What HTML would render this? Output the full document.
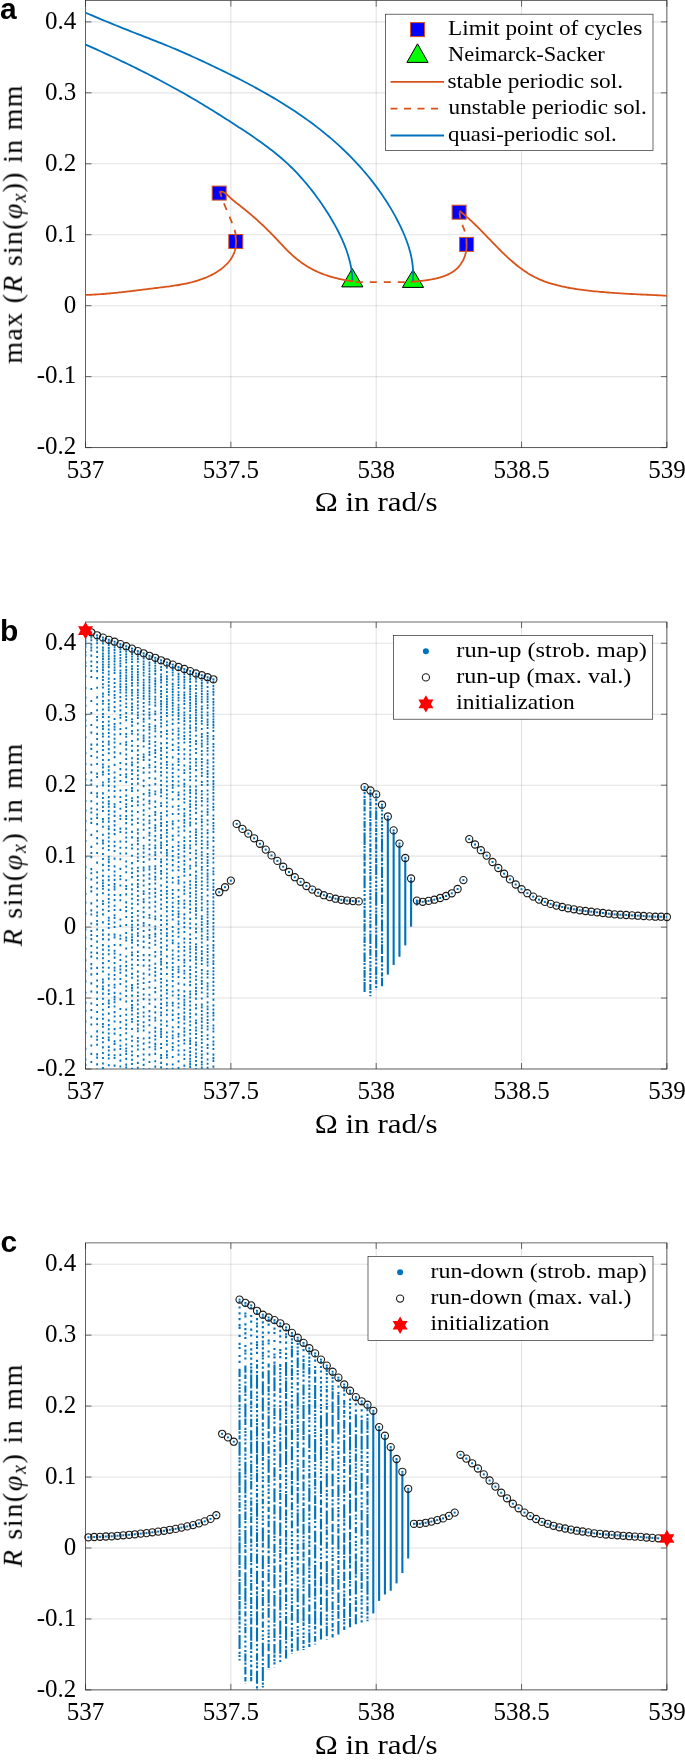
<!DOCTYPE html>
<html><head><meta charset="utf-8"><style>html,body{margin:0;padding:0;background:#fff;overflow:hidden}svg{display:block} text{will-change:transform}</style></head>
<body>
<svg width="685" height="1761" viewBox="0 0 685 1761">
<rect width="685" height="1761" fill="#fff"/>
<defs>
<clipPath id="c0"><rect x="85.5" y="0.6" width="581.40" height="447.0"/></clipPath>
<clipPath id="c1"><rect x="85.5" y="622.0" width="581.40" height="447.0"/></clipPath>
<clipPath id="c2"><rect x="85.5" y="1242.9" width="581.40" height="447.0"/></clipPath>
</defs>
<path d="M85.50 0.60V447.60 M230.85 0.60V447.60 M376.20 0.60V447.60 M521.55 0.60V447.60 M666.90 0.60V447.60" stroke="#262626" stroke-opacity="0.13" stroke-width="1.1" fill="none"/>
<path d="M85.50 447.60H666.90 M85.50 376.65H666.90 M85.50 305.70H666.90 M85.50 234.74H666.90 M85.50 163.79H666.90 M85.50 92.84H666.90 M85.50 21.89H666.90" stroke="#262626" stroke-opacity="0.13" stroke-width="1.1" fill="none"/>
<rect x="85.5" y="0.6" width="581.40" height="447.0" fill="none" stroke="#262626" stroke-width="0.68"/>
<path d="M85.50 447.60v-6M85.50 0.60v6 M230.85 447.60v-6M230.85 0.60v6 M376.20 447.60v-6M376.20 0.60v6 M521.55 447.60v-6M521.55 0.60v6 M666.90 447.60v-6M666.90 0.60v6 M85.50 447.60h6M666.90 447.60h-6 M85.50 376.65h6M666.90 376.65h-6 M85.50 305.70h6M666.90 305.70h-6 M85.50 234.74h6M666.90 234.74h-6 M85.50 163.79h6M666.90 163.79h-6 M85.50 92.84h6M666.90 92.84h-6 M85.50 21.89h6M666.90 21.89h-6" stroke="#262626" stroke-width="0.68" fill="none"/>
<text x="85.50" y="477.90" font-family="Liberation Serif" font-size="25" text-anchor="middle">537</text>
<text x="230.85" y="477.90" font-family="Liberation Serif" font-size="25" text-anchor="middle">537.5</text>
<text x="376.20" y="477.90" font-family="Liberation Serif" font-size="25" text-anchor="middle">538</text>
<text x="521.55" y="477.90" font-family="Liberation Serif" font-size="25" text-anchor="middle">538.5</text>
<text x="666.90" y="477.90" font-family="Liberation Serif" font-size="25" text-anchor="middle">539</text>
<text x="76.30" y="454.40" font-family="Liberation Serif" font-size="25" text-anchor="end">-0.2</text>
<text x="76.30" y="383.45" font-family="Liberation Serif" font-size="25" text-anchor="end">-0.1</text>
<text x="76.30" y="312.50" font-family="Liberation Serif" font-size="25" text-anchor="end">0</text>
<text x="76.30" y="241.54" font-family="Liberation Serif" font-size="25" text-anchor="end">0.1</text>
<text x="76.30" y="170.59" font-family="Liberation Serif" font-size="25" text-anchor="end">0.2</text>
<text x="76.30" y="99.64" font-family="Liberation Serif" font-size="25" text-anchor="end">0.3</text>
<text x="76.30" y="28.69" font-family="Liberation Serif" font-size="25" text-anchor="end">0.4</text>
<text x="376.20" y="511.20" font-family="Liberation Serif" font-size="28" text-anchor="middle" textLength="123" lengthAdjust="spacingAndGlyphs">Ω in rad/s</text>
<rect x="212.2" y="186.1" width="14" height="14" fill="#0000ff" stroke="#D95319" stroke-width="1"/>
<rect x="228.8" y="234.5" width="14" height="14" fill="#0000ff" stroke="#D95319" stroke-width="1"/>
<rect x="452.1" y="205.2" width="14" height="14" fill="#0000ff" stroke="#D95319" stroke-width="1"/>
<rect x="459.6" y="237.4" width="14" height="14" fill="#0000ff" stroke="#D95319" stroke-width="1"/>
<path d="M352.3 268.5L362.9 286.9L341.7 286.9Z" fill="#00ff00" stroke="#000" stroke-width="1"/>
<path d="M413.0 269.9L423.6 287.4L402.4 287.4Z" fill="#00ff00" stroke="#000" stroke-width="1"/>
<g clip-path="url(#c0)" fill="none" stroke-linejoin="round" stroke-linecap="round">
<path d="M85.04 12.51 L88.50 13.98 L91.96 15.45 L95.42 16.91 L98.89 18.36 L102.35 19.81 L105.83 21.25 L109.30 22.68 L112.78 24.10 L116.26 25.51 L119.74 26.92 L123.23 28.32 L126.71 29.71 L130.21 31.10 L133.70 32.47 L137.20 33.84 L140.70 35.20 L144.20 36.56 L147.70 37.93 L151.20 39.29 L154.69 40.67 L158.18 42.05 L161.67 43.45 L165.15 44.86 L168.62 46.29 L172.08 47.74 L175.54 49.20 L179.00 50.68 L182.44 52.17 L185.88 53.67 L189.32 55.19 L192.75 56.72 L196.17 58.27 L199.59 59.83 L203.00 61.40 L206.41 62.99 L209.81 64.59 L213.21 66.20 L216.60 67.83 L219.98 69.47 L223.36 71.12 L226.73 72.78 L230.10 74.45 L233.46 76.14 L236.82 77.84 L240.16 79.55 L243.50 81.28 L246.83 83.03 L250.15 84.79 L253.47 86.57 L256.77 88.37 L260.06 90.18 L263.33 92.02 L266.60 93.87 L269.85 95.75 L273.09 97.64 L276.32 99.56 L279.53 101.50 L282.72 103.47 L285.90 105.46 L289.07 107.47 L292.21 109.51 L295.34 111.58 L298.45 113.67 L301.54 115.79 L304.61 117.94 L307.66 120.12 L310.69 122.33 L313.70 124.56 L316.68 126.84 L319.65 129.14 L322.59 131.47 L325.50 133.84 L328.39 136.25 L331.26 138.68 L334.10 141.15 L336.91 143.66 L339.70 146.19 L342.45 148.76 L345.17 151.37 L347.87 154.00 L350.53 156.67 L353.15 159.38 L355.75 162.11 L358.31 164.88 L360.83 167.67 L363.31 170.50 L365.76 173.37 L368.17 176.26 L370.53 179.18 L372.86 182.14 L375.14 185.13 L377.39 188.14 L379.58 191.19 L381.74 194.27 L383.84 197.38 L385.90 200.51 L387.92 203.68 L389.88 206.88 L391.79 210.11 L393.66 213.36 L395.47 216.65 L397.23 219.97 L398.94 223.31 L400.59 226.68 L402.18 230.08 L403.70 233.51 L405.14 236.98 L406.49 240.47 L407.75 243.99 L408.89 247.55 L409.93 251.13 L410.83 254.76 L411.61 258.41 L412.23 262.10 L412.71 265.83 L413.02 269.59 L413.16 273.38 L413.13 277.22 L412.90 281.09" stroke="#0072BD" stroke-width="1.8"/>
<path d="M85.00 44.29 L87.86 45.57 L90.72 46.85 L93.58 48.13 L96.43 49.43 L99.28 50.72 L102.13 52.03 L104.98 53.34 L107.83 54.65 L110.67 55.97 L113.51 57.30 L116.35 58.64 L119.18 59.98 L122.01 61.33 L124.84 62.68 L127.66 64.04 L130.49 65.41 L133.30 66.79 L136.12 68.18 L138.93 69.57 L141.73 70.97 L144.53 72.38 L147.33 73.79 L150.12 75.22 L152.91 76.65 L155.69 78.09 L158.47 79.54 L161.24 81.00 L164.00 82.47 L166.76 83.95 L169.52 85.43 L172.27 86.93 L175.01 88.43 L177.75 89.95 L180.48 91.47 L183.20 93.01 L185.92 94.55 L188.63 96.11 L191.34 97.67 L194.04 99.25 L196.73 100.84 L199.41 102.44 L202.08 104.04 L204.75 105.66 L207.42 107.29 L210.08 108.93 L212.73 110.57 L215.38 112.22 L218.03 113.88 L220.67 115.55 L223.32 117.22 L225.96 118.90 L228.60 120.59 L231.23 122.28 L233.86 123.98 L236.49 125.68 L239.12 127.40 L241.74 129.12 L244.36 130.85 L246.97 132.59 L249.58 134.34 L252.17 136.10 L254.76 137.88 L257.33 139.67 L259.89 141.48 L262.44 143.30 L264.97 145.15 L267.48 147.02 L269.98 148.91 L272.45 150.83 L274.90 152.77 L277.32 154.74 L279.73 156.75 L282.10 158.78 L284.44 160.84 L286.76 162.94 L289.04 165.07 L291.29 167.24 L293.51 169.45 L295.69 171.69 L297.84 173.97 L299.96 176.28 L302.05 178.61 L304.11 180.98 L306.14 183.37 L308.14 185.78 L310.11 188.22 L312.05 190.68 L313.96 193.16 L315.84 195.67 L317.70 198.20 L319.52 200.76 L321.31 203.33 L323.08 205.93 L324.82 208.55 L326.52 211.19 L328.20 213.85 L329.85 216.53 L331.47 219.23 L333.06 221.95 L334.61 224.68 L336.13 227.44 L337.61 230.22 L339.04 233.02 L340.42 235.84 L341.75 238.68 L343.02 241.54 L344.23 244.43 L345.38 247.33 L346.45 250.26 L347.46 253.21 L348.38 256.18 L349.23 259.17 L349.99 262.19 L350.66 265.24 L351.24 268.30 L351.72 271.39 L352.11 274.50 L352.38 277.64 L352.55 280.81" stroke="#0072BD" stroke-width="1.8"/>
<path d="M84.97 294.97 L86.49 294.92 L88.00 294.87 L89.51 294.81 L91.02 294.74 L92.52 294.67 L94.03 294.59 L95.53 294.51 L97.02 294.42 L98.52 294.32 L100.01 294.22 L101.50 294.11 L102.99 294.00 L104.47 293.88 L105.96 293.76 L107.44 293.63 L108.92 293.50 L110.40 293.36 L111.88 293.22 L113.35 293.08 L114.83 292.93 L116.30 292.78 L117.78 292.63 L119.25 292.47 L120.72 292.31 L122.19 292.14 L123.66 291.98 L125.13 291.81 L126.60 291.64 L128.07 291.46 L129.54 291.29 L131.01 291.11 L132.48 290.93 L133.96 290.75 L135.43 290.57 L136.90 290.39 L138.37 290.20 L139.84 290.02 L141.32 289.83 L142.79 289.65 L144.27 289.46 L145.74 289.28 L147.22 289.09 L148.70 288.91 L150.18 288.73 L151.67 288.54 L153.15 288.36 L154.64 288.18 L156.13 288.00 L157.62 287.82 L159.11 287.64 L160.60 287.46 L162.10 287.28 L163.59 287.10 L165.08 286.92 L166.58 286.73 L168.07 286.53 L169.57 286.33 L171.06 286.13 L172.55 285.92 L174.04 285.70 L175.53 285.47 L177.02 285.24 L178.50 284.99 L179.98 284.74 L181.46 284.47 L182.93 284.20 L184.40 283.91 L185.87 283.60 L187.33 283.29 L188.79 282.96 L190.24 282.61 L191.69 282.25 L193.13 281.87 L194.57 281.47 L196.00 281.06 L197.43 280.62 L198.84 280.17 L200.25 279.70 L201.66 279.20 L203.05 278.68 L204.44 278.14 L205.82 277.58 L207.19 277.00 L208.55 276.38 L209.91 275.75 L211.25 275.08 L212.59 274.39 L213.91 273.68 L215.21 272.93 L216.50 272.16 L217.77 271.36 L219.02 270.53 L220.24 269.67 L221.44 268.78 L222.61 267.86 L223.74 266.91 L224.85 265.93 L225.91 264.92 L226.94 263.88 L227.92 262.81 L228.86 261.71 L229.75 260.57 L230.60 259.41 L231.39 258.20 L232.14 256.97 L232.82 255.70 L233.45 254.40 L234.01 253.07 L234.51 251.70 L234.95 250.29 L235.32 248.86 L235.62 247.38 L235.84 245.88 L235.99 244.34 L236.07 242.76 L236.06 241.16 L235.98 239.52 L235.80 237.85 L235.55 236.15" stroke="#D95319" stroke-width="1.8"/>
<path d="M235.60 236.50C235.33 235.10 236.10 234.02 234.00 228.10C231.90 222.18 225.32 207.05 223.00 201.00C220.68 194.95 220.58 193.33 220.10 191.80" stroke="#D95319" stroke-width="1.8" stroke-dasharray="7 7" stroke-linecap="butt"/>
<path d="M220.13 191.53 L221.58 191.64 L222.91 191.98 L224.12 192.52 L225.25 193.22 L226.31 194.04 L227.33 194.95 L228.33 195.90 L229.32 196.87 L230.33 197.82 L231.35 198.74 L232.40 199.64 L233.45 200.53 L234.51 201.39 L235.59 202.25 L236.67 203.10 L237.75 203.95 L238.83 204.79 L239.91 205.63 L240.99 206.48 L242.07 207.33 L243.14 208.18 L244.21 209.04 L245.27 209.90 L246.33 210.77 L247.39 211.64 L248.44 212.52 L249.49 213.40 L250.54 214.29 L251.58 215.18 L252.62 216.07 L253.65 216.97 L254.68 217.88 L255.71 218.78 L256.73 219.70 L257.75 220.61 L258.76 221.54 L259.77 222.46 L260.78 223.39 L261.78 224.33 L262.78 225.27 L263.77 226.21 L264.76 227.16 L265.75 228.12 L266.73 229.07 L267.71 230.04 L268.69 231.00 L269.66 231.97 L270.62 232.95 L271.58 233.93 L272.54 234.92 L273.50 235.91 L274.45 236.90 L275.39 237.90 L276.34 238.90 L277.28 239.91 L278.22 240.91 L279.16 241.92 L280.10 242.92 L281.05 243.92 L281.99 244.92 L282.94 245.92 L283.89 246.92 L284.84 247.91 L285.80 248.89 L286.77 249.87 L287.74 250.84 L288.72 251.80 L289.71 252.75 L290.70 253.69 L291.71 254.63 L292.73 255.55 L293.76 256.46 L294.80 257.35 L295.85 258.23 L296.91 259.10 L297.99 259.95 L299.07 260.79 L300.17 261.62 L301.28 262.43 L302.40 263.22 L303.53 264.00 L304.67 264.76 L305.83 265.50 L306.99 266.23 L308.16 266.94 L309.35 267.63 L310.54 268.31 L311.74 268.96 L312.96 269.60 L314.18 270.22 L315.41 270.82 L316.65 271.41 L317.91 271.97 L319.16 272.52 L320.43 273.05 L321.71 273.56 L322.99 274.05 L324.28 274.53 L325.57 274.99 L326.88 275.43 L328.18 275.86 L329.50 276.28 L330.81 276.67 L332.14 277.06 L333.47 277.42 L334.80 277.78 L336.13 278.12 L337.47 278.44 L338.81 278.76 L340.15 279.05 L341.50 279.34 L342.85 279.61 L344.19 279.88 L345.54 280.12 L346.89 280.36 L348.24 280.59 L349.59 280.80 L350.94 281.01 L352.29 281.20" stroke="#D95319" stroke-width="1.8"/>
<path d="M355.8 282.2 L411 282.2" stroke="#D95319" stroke-width="1.8" stroke-dasharray="7 7" stroke-linecap="butt"/>
<path d="M411.42 281.89 L412.02 281.83 L412.62 281.77 L413.23 281.71 L413.84 281.65 L414.45 281.58 L415.07 281.52 L415.69 281.46 L416.32 281.40 L416.95 281.33 L417.58 281.27 L418.22 281.20 L418.86 281.14 L419.50 281.07 L420.14 281.00 L420.79 280.93 L421.44 280.86 L422.09 280.78 L422.74 280.70 L423.40 280.63 L424.05 280.54 L424.71 280.46 L425.37 280.37 L426.03 280.28 L426.69 280.19 L427.35 280.10 L428.01 280.00 L428.67 279.90 L429.33 279.79 L429.99 279.68 L430.65 279.57 L431.31 279.46 L431.97 279.34 L432.63 279.21 L433.28 279.08 L433.94 278.95 L434.59 278.81 L435.25 278.67 L435.90 278.52 L436.55 278.37 L437.19 278.21 L437.84 278.05 L438.48 277.88 L439.12 277.71 L439.76 277.53 L440.39 277.35 L441.02 277.16 L441.65 276.96 L442.27 276.76 L442.89 276.55 L443.50 276.33 L444.11 276.11 L444.72 275.88 L445.32 275.65 L445.92 275.40 L446.51 275.15 L447.10 274.90 L447.68 274.63 L448.26 274.36 L448.83 274.08 L449.39 273.79 L449.95 273.50 L450.50 273.19 L451.05 272.88 L451.59 272.56 L452.12 272.23 L452.65 271.89 L453.17 271.54 L453.68 271.19 L454.18 270.82 L454.68 270.45 L455.17 270.06 L455.65 269.67 L456.12 269.27 L456.58 268.86 L457.04 268.43 L457.48 268.00 L457.92 267.56 L458.35 267.10 L458.77 266.64 L459.18 266.17 L459.58 265.68 L459.97 265.19 L460.35 264.68 L460.72 264.17 L461.08 263.65 L461.43 263.12 L461.77 262.58 L462.10 262.03 L462.42 261.47 L462.73 260.91 L463.03 260.34 L463.31 259.76 L463.59 259.17 L463.85 258.58 L464.11 257.97 L464.35 257.37 L464.58 256.75 L464.80 256.13 L465.01 255.51 L465.20 254.87 L465.38 254.24 L465.56 253.59 L465.71 252.94 L465.86 252.29 L465.99 251.63 L466.12 250.97 L466.22 250.30 L466.32 249.63 L466.40 248.96 L466.47 248.28 L466.53 247.60 L466.57 246.92 L466.60 246.23 L466.62 245.54 L466.62 244.85 L466.61 244.15 L466.58 243.46 L466.54 242.76 L466.49 242.06" stroke="#D95319" stroke-width="1.8"/>
<path d="M466.60 242.30C466.50 241.25 466.47 238.30 466.00 236.00C465.53 233.70 464.60 230.83 463.80 228.50C463.00 226.17 461.93 224.67 461.20 222.00C460.47 219.33 459.70 214.08 459.40 212.50" stroke="#D95319" stroke-width="1.8" stroke-dasharray="7 7" stroke-dashoffset="3" stroke-linecap="butt"/>
<path d="M459.96 211.28 L461.45 212.44 L462.93 213.62 L464.40 214.83 L465.85 216.07 L467.30 217.32 L468.74 218.60 L470.17 219.90 L471.60 221.21 L473.01 222.55 L474.42 223.90 L475.83 225.26 L477.23 226.64 L478.62 228.03 L480.01 229.43 L481.40 230.85 L482.79 232.27 L484.17 233.69 L485.56 235.13 L486.94 236.56 L488.33 238.01 L489.71 239.45 L491.10 240.89 L492.48 242.34 L493.88 243.78 L495.27 245.21 L496.67 246.65 L498.07 248.08 L499.48 249.50 L500.90 250.91 L502.32 252.31 L503.75 253.70 L505.19 255.08 L506.64 256.44 L508.09 257.79 L509.56 259.13 L511.03 260.45 L512.52 261.74 L514.02 263.02 L515.53 264.28 L517.06 265.51 L518.60 266.72 L520.16 267.90 L521.72 269.06 L523.31 270.19 L524.91 271.29 L526.53 272.36 L528.17 273.40 L529.83 274.40 L531.50 275.37 L533.19 276.31 L534.91 277.20 L536.65 278.06 L538.40 278.88 L540.18 279.67 L541.98 280.41 L543.79 281.13 L545.62 281.80 L547.47 282.45 L549.34 283.06 L551.22 283.65 L553.11 284.20 L555.01 284.73 L556.93 285.23 L558.85 285.71 L560.79 286.16 L562.73 286.59 L564.68 286.99 L566.64 287.38 L568.60 287.75 L570.57 288.10 L572.54 288.43 L574.51 288.75 L576.49 289.05 L578.46 289.34 L580.44 289.61 L582.41 289.88 L584.39 290.14 L586.36 290.38 L588.33 290.62 L590.30 290.85 L592.27 291.06 L594.24 291.27 L596.21 291.47 L598.18 291.66 L600.14 291.85 L602.11 292.02 L604.08 292.19 L606.04 292.35 L608.01 292.51 L609.97 292.66 L611.93 292.80 L613.90 292.94 L615.86 293.07 L617.82 293.20 L619.79 293.33 L621.75 293.45 L623.71 293.56 L625.68 293.67 L627.64 293.78 L629.60 293.89 L631.56 293.99 L633.53 294.09 L635.49 294.19 L637.45 294.29 L639.42 294.39 L641.38 294.48 L643.35 294.58 L645.31 294.67 L647.28 294.77 L649.24 294.87 L651.21 294.96 L653.18 295.06 L655.14 295.16 L657.11 295.26 L659.08 295.36 L661.05 295.47 L663.02 295.58 L665.00 295.69 L666.97 295.81" stroke="#D95319" stroke-width="1.8"/>
</g>
<rect x="385.5" y="14.2" width="267.5" height="136.3" fill="#fff" stroke="#262626" stroke-width="0.68"/>
<rect x="410.5" y="22.6" width="14" height="14" fill="#0000ff" stroke="#D95319" stroke-width="1"/>
<path d="M417.5 43.8L428.1 62.4L406.9 62.4Z" fill="#00ff00" stroke="#000" stroke-width="1"/>
<path d="M390.5 81.9H444" stroke="#D95319" stroke-width="1.8"/>
<path d="M390.5 108.6H444" stroke="#D95319" stroke-width="1.8" stroke-dasharray="7 6.5"/>
<path d="M390.5 135.5H444" stroke="#0072BD" stroke-width="1.8"/>
<text x="448.00" y="34.80" font-family="Liberation Serif" font-size="21.5" textLength="194.2" lengthAdjust="spacingAndGlyphs">Limit point of cycles</text>
<text x="448.00" y="61.30" font-family="Liberation Serif" font-size="21.5" textLength="156.8" lengthAdjust="spacingAndGlyphs">Neimarck-Sacker</text>
<text x="447.50" y="87.90" font-family="Liberation Serif" font-size="21.5" textLength="175.5" lengthAdjust="spacingAndGlyphs">stable periodic sol.</text>
<text x="448.60" y="114.40" font-family="Liberation Serif" font-size="21.5" textLength="198.2" lengthAdjust="spacingAndGlyphs">unstable periodic sol.</text>
<text x="448.00" y="141.00" font-family="Liberation Serif" font-size="21.5" textLength="168.7" lengthAdjust="spacingAndGlyphs">quasi-periodic sol.</text>
<path d="M85.50 622.00V1069.00 M230.85 622.00V1069.00 M376.20 622.00V1069.00 M521.55 622.00V1069.00 M666.90 622.00V1069.00" stroke="#262626" stroke-opacity="0.13" stroke-width="1.1" fill="none"/>
<path d="M85.50 1069.00H666.90 M85.50 998.05H666.90 M85.50 927.10H666.90 M85.50 856.14H666.90 M85.50 785.19H666.90 M85.50 714.24H666.90 M85.50 643.29H666.90" stroke="#262626" stroke-opacity="0.13" stroke-width="1.1" fill="none"/>
<rect x="85.5" y="622.0" width="581.40" height="447.0" fill="none" stroke="#262626" stroke-width="0.68"/>
<path d="M85.50 1069.00v-6M85.50 622.00v6 M230.85 1069.00v-6M230.85 622.00v6 M376.20 1069.00v-6M376.20 622.00v6 M521.55 1069.00v-6M521.55 622.00v6 M666.90 1069.00v-6M666.90 622.00v6 M85.50 1069.00h6M666.90 1069.00h-6 M85.50 998.05h6M666.90 998.05h-6 M85.50 927.10h6M666.90 927.10h-6 M85.50 856.14h6M666.90 856.14h-6 M85.50 785.19h6M666.90 785.19h-6 M85.50 714.24h6M666.90 714.24h-6 M85.50 643.29h6M666.90 643.29h-6" stroke="#262626" stroke-width="0.68" fill="none"/>
<text x="85.50" y="1099.30" font-family="Liberation Serif" font-size="25" text-anchor="middle">537</text>
<text x="230.85" y="1099.30" font-family="Liberation Serif" font-size="25" text-anchor="middle">537.5</text>
<text x="376.20" y="1099.30" font-family="Liberation Serif" font-size="25" text-anchor="middle">538</text>
<text x="521.55" y="1099.30" font-family="Liberation Serif" font-size="25" text-anchor="middle">538.5</text>
<text x="666.90" y="1099.30" font-family="Liberation Serif" font-size="25" text-anchor="middle">539</text>
<text x="76.30" y="1075.80" font-family="Liberation Serif" font-size="25" text-anchor="end">-0.2</text>
<text x="76.30" y="1004.85" font-family="Liberation Serif" font-size="25" text-anchor="end">-0.1</text>
<text x="76.30" y="933.90" font-family="Liberation Serif" font-size="25" text-anchor="end">0</text>
<text x="76.30" y="862.94" font-family="Liberation Serif" font-size="25" text-anchor="end">0.1</text>
<text x="76.30" y="791.99" font-family="Liberation Serif" font-size="25" text-anchor="end">0.2</text>
<text x="76.30" y="721.04" font-family="Liberation Serif" font-size="25" text-anchor="end">0.3</text>
<text x="76.30" y="650.09" font-family="Liberation Serif" font-size="25" text-anchor="end">0.4</text>
<text x="376.20" y="1132.60" font-family="Liberation Serif" font-size="28" text-anchor="middle" textLength="123" lengthAdjust="spacingAndGlyphs">Ω in rad/s</text>
<g clip-path="url(#c1)" fill="none">
<path d="M85.50 632.1v2.1M85.50 634.8v2.1M85.50 637.5v2.1M85.50 640.2v2.1M85.50 642.9v2.1M85.50 645.6v2.1M85.50 650.9v2.1M85.50 654.3v2.1M85.50 661.5v2.1M85.50 665.0v2.1M85.50 675.2v2.1M85.50 687.0v2.1M85.50 696.6v2.1M85.50 704.7v2.1M85.50 713.9v2.1M85.50 719.4v2.1M85.50 724.9v2.1M85.50 736.2v2.1M85.50 752.2v2.1M85.50 762.7v2.1M85.50 772.9v2.1M85.50 778.4v2.1M85.50 783.9v2.1M85.50 799.9v2.1M85.50 809.6v2.1M85.50 820.0v2.1M85.50 829.2v2.1M85.50 840.0v2.1M85.50 856.0v2.1M85.50 866.1v2.1M85.50 877.0v2.1M85.50 893.0v2.1M85.50 901.5v2.1M85.50 912.5v2.1M85.50 928.5v2.1M85.50 936.6v2.1M85.50 947.7v2.1M85.50 959.2v2.1M85.50 970.0v2.1M85.50 980.3v2.1M85.50 991.7v2.1M85.50 1001.6v2.1M85.50 1009.8v2.1M85.50 1020.4v2.1M85.50 1031.7v2.1M85.50 1047.7v2.1M85.50 1058.4v2.1M85.50 1063.9v2.1M85.50 1072.5v2.1" stroke="#0072BD" stroke-width="1.8" fill="none"/>
<path d="M91.31 633.8v2.1M91.31 636.5v2.1M91.31 639.2v2.1M91.31 643.5v2.1M91.31 646.6v2.1M91.31 649.4v2.1M91.31 654.6v2.1M91.31 660.4v2.1M91.31 665.0v2.1M91.31 669.8v2.1M91.31 675.9v2.1M91.31 687.9v2.1M91.31 699.9v2.1M91.31 711.9v2.1M91.31 723.9v2.1M91.31 731.6v2.1M91.31 743.6v2.1M91.31 747.8v2.1M91.31 754.9v2.1M91.31 763.7v2.1M91.31 771.3v2.1M91.31 779.3v2.1M91.31 783.4v2.1M91.31 791.8v2.1M91.31 800.2v2.1M91.31 807.4v2.1M91.31 811.5v2.1M91.31 817.7v2.1M91.31 821.8v2.1M91.31 833.8v2.1M91.31 845.8v2.1M91.31 852.0v2.1M91.31 856.1v2.1M91.31 868.1v2.1M91.31 872.2v2.1M91.31 878.3v2.1M91.31 886.1v2.1M91.31 890.3v2.1M91.31 902.3v2.1M91.31 909.3v2.1M91.31 913.5v2.1M91.31 922.4v2.1M91.31 929.9v2.1M91.31 934.0v2.1M91.31 938.1v2.1M91.31 944.9v2.1M91.31 951.4v2.1M91.31 955.6v2.1M91.31 963.1v2.1M91.31 967.3v2.1M91.31 973.3v2.1M91.31 982.3v2.1M91.31 990.4v2.1M91.31 1002.4v2.1M91.31 1008.9v2.1M91.31 1016.5v2.1M91.31 1023.5v2.1M91.31 1035.5v2.1M91.31 1044.4v2.1M91.31 1052.8v2.1M91.31 1061.0v2.1M91.31 1073.0v2.1" stroke="#0072BD" stroke-width="1.8" fill="none"/>
<path d="M97.13 636.8v2.1M97.13 639.5v2.1M97.13 642.2v2.1M97.13 646.5v2.1M97.13 650.8v2.1M97.13 656.0v2.1M97.13 661.1v2.1M97.13 666.2v2.1M97.13 670.1v2.1M97.13 677.1v2.1M97.13 686.7v2.1M97.13 696.3v2.1M97.13 703.2v2.1M97.13 709.2v2.1M97.13 715.9v2.1M97.13 719.2v2.1M97.13 726.2v2.1M97.13 732.8v2.1M97.13 738.0v2.1M97.13 743.6v2.1M97.13 750.7v2.1M97.13 756.5v2.1M97.13 763.0v2.1M97.13 772.6v2.1M97.13 775.9v2.1M97.13 785.5v2.1M97.13 792.3v2.1M97.13 795.6v2.1M97.13 802.7v2.1M97.13 808.4v2.1M97.13 813.5v2.1M97.13 816.8v2.1M97.13 823.1v2.1M97.13 830.2v2.1M97.13 837.1v2.1M97.13 842.4v2.1M97.13 852.0v2.1M97.13 861.6v2.1M97.13 871.2v2.1M97.13 876.6v2.1M97.13 881.7v2.1M97.13 887.4v2.1M97.13 893.6v2.1M97.13 899.4v2.1M97.13 905.4v2.1M97.13 911.4v2.1M97.13 914.7v2.1M97.13 920.0v2.1M97.13 923.3v2.1M97.13 928.5v2.1M97.13 935.0v2.1M97.13 940.6v2.1M97.13 946.7v2.1M97.13 951.8v2.1M97.13 957.2v2.1M97.13 966.8v2.1M97.13 972.8v2.1M97.13 979.4v2.1M97.13 985.3v2.1M97.13 991.3v2.1M97.13 997.8v2.1M97.13 1003.9v2.1M97.13 1010.9v2.1M97.13 1017.8v2.1M97.13 1023.2v2.1M97.13 1030.3v2.1M97.13 1035.4v2.1M97.13 1038.7v2.1M97.13 1043.7v2.1M97.13 1053.3v2.1M97.13 1056.6v2.1M97.13 1063.3v2.1M97.13 1068.5v2.1M97.13 1074.8v2.1" stroke="#0072BD" stroke-width="1.8" fill="none"/>
<path d="M102.94 639.1v2.1M102.94 642.3v2.1M102.94 646.6v2.1M102.94 649.3v2.1M102.94 652.6v2.1M102.94 655.3v2.1M102.94 658.0v2.1M102.94 660.7v2.1M102.94 663.6v2.1M102.94 666.3v2.1M102.94 669.0v2.1M102.94 671.7v2.1M102.94 675.8v2.1M102.94 678.9v2.1M102.94 683.2v2.1M102.94 686.5v2.1M102.94 692.6v2.1M102.94 695.4v2.1M102.94 699.9v2.1M102.94 702.7v2.1M102.94 708.5v2.1M102.94 713.0v2.1M102.94 715.8v2.1M102.94 720.9v2.1M102.94 725.1v2.1M102.94 727.8v2.1M102.94 732.7v2.1M102.94 735.4v2.1M102.94 740.7v2.1M102.94 744.9v2.1M102.94 749.0v2.1M102.94 753.9v2.1M102.94 759.0v2.1M102.94 763.5v2.1M102.94 766.3v2.1M102.94 770.8v2.1M102.94 773.5v2.1M102.94 781.5v2.1M102.94 784.3v2.1M102.94 792.3v2.1M102.94 796.9v2.1M102.94 801.5v2.1M102.94 805.8v2.1M102.94 809.9v2.1M102.94 817.9v2.1M102.94 820.6v2.1M102.94 825.7v2.1M102.94 833.7v2.1M102.94 839.6v2.1M102.94 842.3v2.1M102.94 847.2v2.1M102.94 852.9v2.1M102.94 857.9v2.1M102.94 863.8v2.1M102.94 869.5v2.1M102.94 874.8v2.1M102.94 879.5v2.1M102.94 882.2v2.1M102.94 885.0v2.1M102.94 887.7v2.1M102.94 892.2v2.1M102.94 900.2v2.1M102.94 903.0v2.1M102.94 908.7v2.1M102.94 913.3v2.1M102.94 921.3v2.1M102.94 929.3v2.1M102.94 933.6v2.1M102.94 938.1v2.1M102.94 944.1v2.1M102.94 948.6v2.1M102.94 953.2v2.1M102.94 957.2v2.1M102.94 962.1v2.1M102.94 966.5v2.1M102.94 970.5v2.1M102.94 978.5v2.1M102.94 981.3v2.1M102.94 985.4v2.1M102.94 988.1v2.1M102.94 992.6v2.1M102.94 997.7v2.1M102.94 1003.0v2.1M102.94 1008.7v2.1M102.94 1013.4v2.1M102.94 1017.7v2.1M102.94 1023.0v2.1M102.94 1025.7v2.1M102.94 1031.5v2.1M102.94 1037.0v2.1M102.94 1041.2v2.1M102.94 1046.3v2.1M102.94 1051.9v2.1M102.94 1057.0v2.1M102.94 1062.4v2.1M102.94 1066.9v2.1M102.94 1069.6v2.1M102.94 1072.4v2.1" stroke="#0072BD" stroke-width="1.8" fill="none"/>
<path d="M108.76 641.3v2.1M108.76 644.1v2.1M108.76 646.9v2.1M108.76 649.6v2.1M108.76 652.3v2.1M108.76 655.3v2.1M108.76 658.0v2.1M108.76 660.7v2.1M108.76 663.4v2.1M108.76 666.1v2.1M108.76 670.4v2.1M108.76 673.5v2.1M108.76 677.6v2.1M108.76 680.9v2.1M108.76 684.6v2.1M108.76 688.2v2.1M108.76 691.0v2.1M108.76 693.7v2.1M108.76 699.3v2.1M108.76 703.1v2.1M108.76 706.5v2.1M108.76 709.2v2.1M108.76 715.9v2.1M108.76 720.5v2.1M108.76 724.3v2.1M108.76 728.4v2.1M108.76 732.0v2.1M108.76 735.7v2.1M108.76 740.6v2.1M108.76 743.3v2.1M108.76 748.1v2.1M108.76 752.2v2.1M108.76 758.9v2.1M108.76 765.6v2.1M108.76 769.3v2.1M108.76 772.9v2.1M108.76 777.9v2.1M108.76 780.6v2.1M108.76 784.8v2.1M108.76 789.4v2.1M108.76 796.1v2.1M108.76 800.3v2.1M108.76 803.0v2.1M108.76 805.7v2.1M108.76 809.8v2.1M108.76 813.4v2.1M108.76 817.3v2.1M108.76 820.6v2.1M108.76 825.4v2.1M108.76 828.1v2.1M108.76 832.6v2.1M108.76 836.5v2.1M108.76 840.5v2.1M108.76 844.9v2.1M108.76 848.9v2.1M108.76 855.7v2.1M108.76 858.4v2.1M108.76 861.1v2.1M108.76 864.9v2.1M108.76 868.7v2.1M108.76 875.4v2.1M108.76 879.1v2.1M108.76 884.0v2.1M108.76 888.8v2.1M108.76 893.7v2.1M108.76 898.0v2.1M108.76 901.4v2.1M108.76 905.5v2.1M108.76 910.0v2.1M108.76 916.7v2.1M108.76 919.4v2.1M108.76 922.9v2.1M108.76 926.9v2.1M108.76 933.6v2.1M108.76 938.6v2.1M108.76 945.3v2.1M108.76 949.2v2.1M108.76 953.2v2.1M108.76 959.9v2.1M108.76 966.7v2.1M108.76 973.4v2.1M108.76 977.6v2.1M108.76 984.3v2.1M108.76 989.3v2.1M108.76 992.9v2.1M108.76 999.6v2.1M108.76 1002.3v2.1M108.76 1005.9v2.1M108.76 1012.6v2.1M108.76 1019.3v2.1M108.76 1024.1v2.1M108.76 1028.2v2.1M108.76 1032.4v2.1M108.76 1036.4v2.1M108.76 1039.1v2.1M108.76 1045.8v2.1M108.76 1049.4v2.1M108.76 1053.8v2.1M108.76 1057.5v2.1M108.76 1064.2v2.1M108.76 1070.9v2.1" stroke="#0072BD" stroke-width="1.8" fill="none"/>
<path d="M114.57 643.2v2.1M114.57 646.3v2.1M114.57 649.0v2.1M114.57 651.7v2.1M114.57 654.8v2.1M114.57 657.6v2.1M114.57 660.3v2.1M114.57 663.5v2.1M114.57 666.5v2.1M114.57 669.2v2.1M114.57 671.9v2.1M114.57 677.9v2.1M114.57 682.0v2.1M114.57 686.0v2.1M114.57 690.2v2.1M114.57 694.0v2.1M114.57 696.7v2.1M114.57 701.0v2.1M114.57 706.1v2.1M114.57 710.2v2.1M114.57 717.9v2.1M114.57 723.0v2.1M114.57 725.7v2.1M114.57 728.4v2.1M114.57 733.4v2.1M114.57 737.7v2.1M114.57 741.5v2.1M114.57 746.2v2.1M114.57 751.3v2.1M114.57 756.1v2.1M114.57 763.8v2.1M114.57 771.4v2.1M114.57 776.6v2.1M114.57 780.5v2.1M114.57 785.6v2.1M114.57 790.0v2.1M114.57 795.6v2.1M114.57 803.3v2.1M114.57 806.0v2.1M114.57 810.6v2.1M114.57 814.8v2.1M114.57 820.1v2.1M114.57 824.3v2.1M114.57 828.8v2.1M114.57 833.1v2.1M114.57 840.7v2.1M114.57 845.1v2.1M114.57 849.9v2.1M114.57 857.6v2.1M114.57 865.3v2.1M114.57 870.4v2.1M114.57 874.5v2.1M114.57 878.8v2.1M114.57 882.9v2.1M114.57 885.6v2.1M114.57 888.3v2.1M114.57 893.9v2.1M114.57 899.1v2.1M114.57 904.7v2.1M114.57 908.9v2.1M114.57 914.2v2.1M114.57 916.9v2.1M114.57 921.5v2.1M114.57 926.0v2.1M114.57 933.6v2.1M114.57 936.3v2.1M114.57 944.0v2.1M114.57 949.7v2.1M114.57 952.4v2.1M114.57 956.6v2.1M114.57 962.0v2.1M114.57 966.7v2.1M114.57 969.4v2.1M114.57 974.0v2.1M114.57 978.2v2.1M114.57 983.7v2.1M114.57 986.4v2.1M114.57 991.8v2.1M114.57 995.8v2.1M114.57 998.5v2.1M114.57 1001.2v2.1M114.57 1005.5v2.1M114.57 1011.1v2.1M114.57 1015.4v2.1M114.57 1020.4v2.1M114.57 1028.1v2.1M114.57 1032.6v2.1M114.57 1040.3v2.1M114.57 1043.0v2.1M114.57 1048.6v2.1M114.57 1054.2v2.1M114.57 1056.9v2.1M114.57 1064.6v2.1M114.57 1070.3v2.1M114.57 1074.8v2.1" stroke="#0072BD" stroke-width="1.8" fill="none"/>
<path d="M120.38 645.6v2.1M120.38 648.3v2.1M120.38 651.0v2.1M120.38 654.0v2.1M120.38 657.0v2.1M120.38 659.7v2.1M120.38 662.4v2.1M120.38 665.1v2.1M120.38 669.4v2.1M120.38 672.1v2.1M120.38 674.8v2.1M120.38 677.5v2.1M120.38 680.2v2.1M120.38 683.3v2.1M120.38 686.0v2.1M120.38 688.7v2.1M120.38 691.4v2.1M120.38 696.1v2.1M120.38 700.0v2.1M120.38 704.5v2.1M120.38 709.3v2.1M120.38 714.0v2.1M120.38 716.7v2.1M120.38 722.2v2.1M120.38 727.9v2.1M120.38 733.1v2.1M120.38 742.7v2.1M120.38 752.3v2.1M120.38 761.9v2.1M120.38 768.1v2.1M120.38 773.9v2.1M120.38 779.9v2.1M120.38 789.5v2.1M120.38 795.9v2.1M120.38 800.9v2.1M120.38 807.7v2.1M120.38 814.7v2.1M120.38 818.0v2.1M120.38 827.6v2.1M120.38 830.9v2.1M120.38 840.5v2.1M120.38 846.7v2.1M120.38 852.4v2.1M120.38 858.2v2.1M120.38 867.8v2.1M120.38 874.9v2.1M120.38 878.2v2.1M120.38 884.5v2.1M120.38 894.1v2.1M120.38 899.2v2.1M120.38 908.8v2.1M120.38 918.4v2.1M120.38 924.8v2.1M120.38 934.4v2.1M120.38 937.7v2.1M120.38 944.1v2.1M120.38 953.7v2.1M120.38 959.0v2.1M120.38 965.1v2.1M120.38 968.4v2.1M120.38 971.7v2.1M120.38 977.9v2.1M120.38 982.9v2.1M120.38 992.5v2.1M120.38 998.3v2.1M120.38 1007.9v2.1M120.38 1014.9v2.1M120.38 1021.1v2.1M120.38 1026.9v2.1M120.38 1034.1v2.1M120.38 1039.4v2.1M120.38 1044.7v2.1M120.38 1048.0v2.1M120.38 1053.8v2.1M120.38 1059.6v2.1M120.38 1065.5v2.1" stroke="#0072BD" stroke-width="1.8" fill="none"/>
<path d="M126.20 647.7v2.1M126.20 650.4v2.1M126.20 653.3v2.1M126.20 656.0v2.1M126.20 658.7v2.1M126.20 661.4v2.1M126.20 665.7v2.1M126.20 668.8v2.1M126.20 671.5v2.1M126.20 674.6v2.1M126.20 677.3v2.1M126.20 680.0v2.1M126.20 683.2v2.1M126.20 685.9v2.1M126.20 688.6v2.1M126.20 691.4v2.1M126.20 694.7v2.1M126.20 698.2v2.1M126.20 702.5v2.1M126.20 705.9v2.1M126.20 712.1v2.1M126.20 715.9v2.1M126.20 719.2v2.1M126.20 727.2v2.1M126.20 733.0v2.1M126.20 735.7v2.1M126.20 741.3v2.1M126.20 744.0v2.1M126.20 748.3v2.1M126.20 753.4v2.1M126.20 758.0v2.1M126.20 763.1v2.1M126.20 768.4v2.1M126.20 773.3v2.1M126.20 776.1v2.1M126.20 781.1v2.1M126.20 789.1v2.1M126.20 794.6v2.1M126.20 799.0v2.1M126.20 803.2v2.1M126.20 805.9v2.1M126.20 810.1v2.1M126.20 815.1v2.1M126.20 817.9v2.1M126.20 822.1v2.1M126.20 827.6v2.1M126.20 831.7v2.1M126.20 836.5v2.1M126.20 840.7v2.1M126.20 846.7v2.1M126.20 852.4v2.1M126.20 860.4v2.1M126.20 865.4v2.1M126.20 871.2v2.1M126.20 879.2v2.1M126.20 885.0v2.1M126.20 887.8v2.1M126.20 893.3v2.1M126.20 901.3v2.1M126.20 905.9v2.1M126.20 910.1v2.1M126.20 916.0v2.1M126.20 924.0v2.1M126.20 932.0v2.1M126.20 936.6v2.1M126.20 939.4v2.1M126.20 947.4v2.1M126.20 955.4v2.1M126.20 960.7v2.1M126.20 965.1v2.1M126.20 969.3v2.1M126.20 974.6v2.1M126.20 980.3v2.1M126.20 985.5v2.1M126.20 989.7v2.1M126.20 994.9v2.1M126.20 1000.5v2.1M126.20 1008.5v2.1M126.20 1013.7v2.1M126.20 1019.2v2.1M126.20 1023.6v2.1M126.20 1027.7v2.1M126.20 1032.2v2.1M126.20 1038.2v2.1M126.20 1043.5v2.1M126.20 1047.5v2.1M126.20 1050.2v2.1M126.20 1053.0v2.1M126.20 1057.8v2.1M126.20 1063.6v2.1M126.20 1066.4v2.1M126.20 1074.4v2.1" stroke="#0072BD" stroke-width="1.8" fill="none"/>
<path d="M132.01 650.1v2.1M132.01 652.8v2.1M132.01 655.5v2.1M132.01 658.2v2.1M132.01 661.0v2.1M132.01 665.3v2.1M132.01 668.0v2.1M132.01 670.7v2.1M132.01 673.4v2.1M132.01 676.1v2.1M132.01 678.8v2.1M132.01 681.9v2.1M132.01 684.6v2.1M132.01 688.9v2.1M132.01 691.6v2.1M132.01 694.4v2.1M132.01 698.3v2.1M132.01 702.6v2.1M132.01 705.8v2.1M132.01 708.8v2.1M132.01 712.3v2.1M132.01 718.2v2.1M132.01 720.9v2.1M132.01 724.6v2.1M132.01 730.0v2.1M132.01 732.7v2.1M132.01 740.0v2.1M132.01 744.7v2.1M132.01 749.8v2.1M132.01 757.2v2.1M132.01 761.4v2.1M132.01 764.1v2.1M132.01 769.3v2.1M132.01 772.9v2.1M132.01 778.0v2.1M132.01 783.0v2.1M132.01 787.1v2.1M132.01 789.8v2.1M132.01 797.2v2.1M132.01 799.9v2.1M132.01 805.0v2.1M132.01 810.2v2.1M132.01 814.4v2.1M132.01 818.8v2.1M132.01 823.5v2.1M132.01 830.8v2.1M132.01 836.3v2.1M132.01 843.7v2.1M132.01 847.4v2.1M132.01 854.7v2.1M132.01 862.1v2.1M132.01 867.5v2.1M132.01 871.8v2.1M132.01 876.1v2.1M132.01 883.4v2.1M132.01 888.3v2.1M132.01 893.2v2.1M132.01 897.7v2.1M132.01 902.7v2.1M132.01 907.2v2.1M132.01 911.9v2.1M132.01 916.0v2.1M132.01 919.8v2.1M132.01 923.7v2.1M132.01 926.4v2.1M132.01 929.1v2.1M132.01 933.5v2.1M132.01 936.2v2.1M132.01 938.9v2.1M132.01 941.6v2.1M132.01 946.4v2.1M132.01 951.4v2.1M132.01 954.1v2.1M132.01 958.5v2.1M132.01 963.7v2.1M132.01 967.5v2.1M132.01 972.8v2.1M132.01 976.7v2.1M132.01 984.1v2.1M132.01 986.8v2.1M132.01 989.5v2.1M132.01 994.6v2.1M132.01 999.8v2.1M132.01 1004.1v2.1M132.01 1006.8v2.1M132.01 1009.5v2.1M132.01 1013.5v2.1M132.01 1018.0v2.1M132.01 1020.7v2.1M132.01 1028.0v2.1M132.01 1035.4v2.1M132.01 1039.7v2.1M132.01 1045.2v2.1M132.01 1050.4v2.1M132.01 1054.2v2.1M132.01 1058.7v2.1M132.01 1063.0v2.1M132.01 1067.7v2.1" stroke="#0072BD" stroke-width="1.8" fill="none"/>
<path d="M137.83 652.6v2.1M137.83 655.3v2.1M137.83 658.0v2.1M137.83 660.7v2.1M137.83 665.0v2.1M137.83 668.2v2.1M137.83 670.9v2.1M137.83 673.6v2.1M137.83 676.3v2.1M137.83 679.0v2.1M137.83 681.7v2.1M137.83 684.4v2.1M137.83 688.8v2.1M137.83 691.5v2.1M137.83 694.2v2.1M137.83 696.9v2.1M137.83 700.6v2.1M137.83 704.2v2.1M137.83 707.5v2.1M137.83 711.5v2.1M137.83 714.2v2.1M137.83 717.0v2.1M137.83 722.5v2.1M137.83 729.2v2.1M137.83 733.4v2.1M137.83 738.3v2.1M137.83 745.0v2.1M137.83 749.3v2.1M137.83 753.9v2.1M137.83 757.8v2.1M137.83 761.5v2.1M137.83 765.9v2.1M137.83 769.6v2.1M137.83 774.2v2.1M137.83 777.8v2.1M137.83 782.6v2.1M137.83 789.4v2.1M137.83 796.1v2.1M137.83 800.6v2.1M137.83 804.2v2.1M137.83 811.0v2.1M137.83 817.7v2.1M137.83 821.9v2.1M137.83 828.6v2.1M137.83 832.3v2.1M137.83 836.9v2.1M137.83 839.6v2.1M137.83 843.1v2.1M137.83 848.2v2.1M137.83 852.7v2.1M137.83 856.4v2.1M137.83 860.0v2.1M137.83 866.7v2.1M137.83 870.1v2.1M137.83 874.8v2.1M137.83 879.0v2.1M137.83 883.1v2.1M137.83 885.8v2.1M137.83 889.9v2.1M137.83 894.8v2.1M137.83 899.1v2.1M137.83 903.2v2.1M137.83 909.9v2.1M137.83 914.7v2.1M137.83 919.3v2.1M137.83 923.8v2.1M137.83 927.9v2.1M137.83 932.3v2.1M137.83 935.0v2.1M137.83 939.7v2.1M137.83 944.1v2.1M137.83 950.8v2.1M137.83 954.9v2.1M137.83 959.0v2.1M137.83 963.9v2.1M137.83 970.6v2.1M137.83 975.3v2.1M137.83 979.5v2.1M137.83 982.9v2.1M137.83 986.5v2.1M137.83 991.5v2.1M137.83 995.0v2.1M137.83 999.3v2.1M137.83 1003.5v2.1M137.83 1008.2v2.1M137.83 1012.3v2.1M137.83 1016.0v2.1M137.83 1020.0v2.1M137.83 1023.6v2.1M137.83 1027.5v2.1M137.83 1030.2v2.1M137.83 1037.0v2.1M137.83 1040.3v2.1M137.83 1044.4v2.1M137.83 1048.4v2.1M137.83 1055.1v2.1M137.83 1061.8v2.1M137.83 1066.7v2.1M137.83 1070.5v2.1M137.83 1074.5v2.1" stroke="#0072BD" stroke-width="1.8" fill="none"/>
<path d="M143.64 654.8v2.1M143.64 657.5v2.1M143.64 660.5v2.1M143.64 663.2v2.1M143.64 665.9v2.1M143.64 668.6v2.1M143.64 671.7v2.1M143.64 674.4v2.1M143.64 678.7v2.1M143.64 681.4v2.1M143.64 684.1v2.1M143.64 686.8v2.1M143.64 689.5v2.1M143.64 692.2v2.1M143.64 694.9v2.1M143.64 697.6v2.1M143.64 701.9v2.1M143.64 705.7v2.1M143.64 709.8v2.1M143.64 713.4v2.1M143.64 717.8v2.1M143.64 720.5v2.1M143.64 725.0v2.1M143.64 729.3v2.1M143.64 734.6v2.1M143.64 737.3v2.1M143.64 740.1v2.1M143.64 745.4v2.1M143.64 753.4v2.1M143.64 756.1v2.1M143.64 758.9v2.1M143.64 766.9v2.1M143.64 771.6v2.1M143.64 779.6v2.1M143.64 785.1v2.1M143.64 793.1v2.1M143.64 798.4v2.1M143.64 803.7v2.1M143.64 809.3v2.1M143.64 813.7v2.1M143.64 818.7v2.1M143.64 823.6v2.1M143.64 828.7v2.1M143.64 836.7v2.1M143.64 844.7v2.1M143.64 847.5v2.1M143.64 851.6v2.1M143.64 855.9v2.1M143.64 860.9v2.1M143.64 866.6v2.1M143.64 869.3v2.1M143.64 874.3v2.1M143.64 879.6v2.1M143.64 884.4v2.1M143.64 890.3v2.1M143.64 893.0v2.1M143.64 898.3v2.1M143.64 901.1v2.1M143.64 906.4v2.1M143.64 911.1v2.1M143.64 916.1v2.1M143.64 921.9v2.1M143.64 924.6v2.1M143.64 929.9v2.1M143.64 935.6v2.1M143.64 940.6v2.1M143.64 946.1v2.1M143.64 954.1v2.1M143.64 959.0v2.1M143.64 964.6v2.1M143.64 972.6v2.1M143.64 977.4v2.1M143.64 982.0v2.1M143.64 987.9v2.1M143.64 993.5v2.1M143.64 998.1v2.1M143.64 1006.1v2.1M143.64 1011.4v2.1M143.64 1015.5v2.1M143.64 1021.2v2.1M143.64 1025.3v2.1M143.64 1029.4v2.1M143.64 1037.4v2.1M143.64 1042.6v2.1M143.64 1048.2v2.1M143.64 1053.4v2.1M143.64 1058.6v2.1M143.64 1063.8v2.1M143.64 1068.3v2.1M143.64 1073.2v2.1" stroke="#0072BD" stroke-width="1.8" fill="none"/>
<path d="M149.45 657.3v2.1M149.45 661.6v2.1M149.45 664.3v2.1M149.45 667.5v2.1M149.45 670.2v2.1M149.45 673.2v2.1M149.45 675.9v2.1M149.45 678.6v2.1M149.45 681.3v2.1M149.45 684.4v2.1M149.45 687.1v2.1M149.45 689.8v2.1M149.45 692.5v2.1M149.45 695.3v2.1M149.45 698.0v2.1M149.45 700.7v2.1M149.45 703.5v2.1M149.45 707.9v2.1M149.45 711.4v2.1M149.45 714.1v2.1M149.45 717.3v2.1M149.45 723.2v2.1M149.45 725.9v2.1M149.45 728.6v2.1M149.45 732.5v2.1M149.45 736.3v2.1M149.45 740.2v2.1M149.45 742.9v2.1M149.45 747.1v2.1M149.45 751.1v2.1M149.45 753.8v2.1M149.45 758.8v2.1M149.45 763.8v2.1M149.45 766.5v2.1M149.45 771.5v2.1M149.45 776.9v2.1M149.45 784.2v2.1M149.45 789.2v2.1M149.45 791.9v2.1M149.45 794.6v2.1M149.45 799.8v2.1M149.45 802.5v2.1M149.45 807.5v2.1M149.45 814.9v2.1M149.45 819.5v2.1M149.45 822.2v2.1M149.45 826.9v2.1M149.45 831.8v2.1M149.45 834.5v2.1M149.45 838.9v2.1M149.45 843.7v2.1M149.45 848.1v2.1M149.45 853.5v2.1M149.45 858.3v2.1M149.45 865.6v2.1M149.45 868.3v2.1M149.45 873.3v2.1M149.45 877.6v2.1M149.45 883.1v2.1M149.45 887.9v2.1M149.45 892.3v2.1M149.45 896.7v2.1M149.45 901.5v2.1M149.45 906.6v2.1M149.45 914.0v2.1M149.45 916.7v2.1M149.45 924.1v2.1M149.45 928.8v2.1M149.45 934.1v2.1M149.45 936.8v2.1M149.45 942.0v2.1M149.45 946.7v2.1M149.45 954.1v2.1M149.45 959.3v2.1M149.45 964.6v2.1M149.45 968.5v2.1M149.45 973.6v2.1M149.45 981.0v2.1M149.45 986.4v2.1M149.45 993.7v2.1M149.45 998.7v2.1M149.45 1002.7v2.1M149.45 1010.1v2.1M149.45 1015.2v2.1M149.45 1019.1v2.1M149.45 1024.2v2.1M149.45 1031.5v2.1M149.45 1036.8v2.1M149.45 1041.5v2.1M149.45 1046.2v2.1M149.45 1053.6v2.1M149.45 1061.0v2.1M149.45 1068.3v2.1M149.45 1072.7v2.1" stroke="#0072BD" stroke-width="1.8" fill="none"/>
<path d="M155.27 659.3v2.1M155.27 662.0v2.1M155.27 664.7v2.1M155.27 667.4v2.1M155.27 670.1v2.1M155.27 673.1v2.1M155.27 677.4v2.1M155.27 680.1v2.1M155.27 682.8v2.1M155.27 685.5v2.1M155.27 688.6v2.1M155.27 691.4v2.1M155.27 695.7v2.1M155.27 698.4v2.1M155.27 701.4v2.1M155.27 704.6v2.1M155.27 710.4v2.1M155.27 713.1v2.1M155.27 719.0v2.1M155.27 724.8v2.1M155.27 727.5v2.1M155.27 730.2v2.1M155.27 735.5v2.1M155.27 740.9v2.1M155.27 744.7v2.1M155.27 749.1v2.1M155.27 751.8v2.1M155.27 756.0v2.1M155.27 760.9v2.1M155.27 765.8v2.1M155.27 770.3v2.1M155.27 777.6v2.1M155.27 783.1v2.1M155.27 790.5v2.1M155.27 793.2v2.1M155.27 800.6v2.1M155.27 805.9v2.1M155.27 811.1v2.1M155.27 813.8v2.1M155.27 818.8v2.1M155.27 824.3v2.1M155.27 827.0v2.1M155.27 829.7v2.1M155.27 835.1v2.1M155.27 839.3v2.1M155.27 844.4v2.1M155.27 847.1v2.1M155.27 851.3v2.1M155.27 854.0v2.1M155.27 858.0v2.1M155.27 865.3v2.1M155.27 868.0v2.1M155.27 871.7v2.1M155.27 875.8v2.1M155.27 878.5v2.1M155.27 882.5v2.1M155.27 887.8v2.1M155.27 891.8v2.1M155.27 895.6v2.1M155.27 900.8v2.1M155.27 905.4v2.1M155.27 910.5v2.1M155.27 915.4v2.1M155.27 918.1v2.1M155.27 925.4v2.1M155.27 928.1v2.1M155.27 932.8v2.1M155.27 935.5v2.1M155.27 939.7v2.1M155.27 943.7v2.1M155.27 951.0v2.1M155.27 955.3v2.1M155.27 962.7v2.1M155.27 967.0v2.1M155.27 970.8v2.1M155.27 974.6v2.1M155.27 979.5v2.1M155.27 986.9v2.1M155.27 991.1v2.1M155.27 998.5v2.1M155.27 1005.8v2.1M155.27 1011.3v2.1M155.27 1016.7v2.1M155.27 1019.4v2.1M155.27 1026.8v2.1M155.27 1030.6v2.1M155.27 1034.8v2.1M155.27 1038.5v2.1M155.27 1042.8v2.1M155.27 1045.5v2.1M155.27 1048.2v2.1M155.27 1052.8v2.1M155.27 1060.2v2.1M155.27 1065.6v2.1M155.27 1072.9v2.1" stroke="#0072BD" stroke-width="1.8" fill="none"/>
<path d="M161.08 661.8v2.1M161.08 666.1v2.1M161.08 669.0v2.1M161.08 673.4v2.1M161.08 676.1v2.1M161.08 678.8v2.1M161.08 681.5v2.1M161.08 685.8v2.1M161.08 690.1v2.1M161.08 693.0v2.1M161.08 695.8v2.1M161.08 700.1v2.1M161.08 702.8v2.1M161.08 705.5v2.1M161.08 708.5v2.1M161.08 711.8v2.1M161.08 715.8v2.1M161.08 718.7v2.1M161.08 722.2v2.1M161.08 725.4v2.1M161.08 731.1v2.1M161.08 735.3v2.1M161.08 742.3v2.1M161.08 746.9v2.1M161.08 749.6v2.1M161.08 753.9v2.1M161.08 757.6v2.1M161.08 762.6v2.1M161.08 766.7v2.1M161.08 770.9v2.1M161.08 774.5v2.1M161.08 779.7v2.1M161.08 784.1v2.1M161.08 788.6v2.1M161.08 791.3v2.1M161.08 795.2v2.1M161.08 802.2v2.1M161.08 804.9v2.1M161.08 812.0v2.1M161.08 815.5v2.1M161.08 818.2v2.1M161.08 822.1v2.1M161.08 824.8v2.1M161.08 829.3v2.1M161.08 834.1v2.1M161.08 836.8v2.1M161.08 841.6v2.1M161.08 844.3v2.1M161.08 847.0v2.1M161.08 851.4v2.1M161.08 858.4v2.1M161.08 861.1v2.1M161.08 864.9v2.1M161.08 869.9v2.1M161.08 872.6v2.1M161.08 877.5v2.1M161.08 884.5v2.1M161.08 889.7v2.1M161.08 893.9v2.1M161.08 898.4v2.1M161.08 903.5v2.1M161.08 907.7v2.1M161.08 914.7v2.1M161.08 919.0v2.1M161.08 923.9v2.1M161.08 928.9v2.1M161.08 932.5v2.1M161.08 937.7v2.1M161.08 941.7v2.1M161.08 946.3v2.1M161.08 950.7v2.1M161.08 953.4v2.1M161.08 957.9v2.1M161.08 960.6v2.1M161.08 963.3v2.1M161.08 968.1v2.1M161.08 972.8v2.1M161.08 977.9v2.1M161.08 981.4v2.1M161.08 985.4v2.1M161.08 989.4v2.1M161.08 994.6v2.1M161.08 998.5v2.1M161.08 1002.8v2.1M161.08 1006.8v2.1M161.08 1011.5v2.1M161.08 1014.2v2.1M161.08 1019.4v2.1M161.08 1023.4v2.1M161.08 1027.9v2.1M161.08 1030.6v2.1M161.08 1033.3v2.1M161.08 1036.0v2.1M161.08 1043.0v2.1M161.08 1047.0v2.1M161.08 1054.1v2.1M161.08 1056.8v2.1M161.08 1061.8v2.1M161.08 1066.3v2.1M161.08 1070.2v2.1M161.08 1074.5v2.1" stroke="#0072BD" stroke-width="1.8" fill="none"/>
<path d="M166.90 664.0v2.1M166.90 666.7v2.1M166.90 671.0v2.1M166.90 675.3v2.1M166.90 678.0v2.1M166.90 680.7v2.1M166.90 683.8v2.1M166.90 688.2v2.1M166.90 690.9v2.1M166.90 695.2v2.1M166.90 697.9v2.1M166.90 700.6v2.1M166.90 703.3v2.1M166.90 706.0v2.1M166.90 708.7v2.1M166.90 712.0v2.1M166.90 714.9v2.1M166.90 720.5v2.1M166.90 724.2v2.1M166.90 729.8v2.1M166.90 733.0v2.1M166.90 737.4v2.1M166.90 742.1v2.1M166.90 746.8v2.1M166.90 751.4v2.1M166.90 756.1v2.1M166.90 761.0v2.1M166.90 763.7v2.1M166.90 767.0v2.1M166.90 771.4v2.1M166.90 776.4v2.1M166.90 780.4v2.1M166.90 785.2v2.1M166.90 789.2v2.1M166.90 793.4v2.1M166.90 797.2v2.1M166.90 801.5v2.1M166.90 805.4v2.1M166.90 810.2v2.1M166.90 814.3v2.1M166.90 821.0v2.1M166.90 824.6v2.1M166.90 829.0v2.1M166.90 831.7v2.1M166.90 835.6v2.1M166.90 840.3v2.1M166.90 844.0v2.1M166.90 848.9v2.1M166.90 851.6v2.1M166.90 854.3v2.1M166.90 858.5v2.1M166.90 863.2v2.1M166.90 868.2v2.1M166.90 872.5v2.1M166.90 876.5v2.1M166.90 880.8v2.1M166.90 885.8v2.1M166.90 890.0v2.1M166.90 892.7v2.1M166.90 896.8v2.1M166.90 901.1v2.1M166.90 906.1v2.1M166.90 910.2v2.1M166.90 915.2v2.1M166.90 919.4v2.1M166.90 923.1v2.1M166.90 928.1v2.1M166.90 932.3v2.1M166.90 935.0v2.1M166.90 939.5v2.1M166.90 944.6v2.1M166.90 948.6v2.1M166.90 955.3v2.1M166.90 962.1v2.1M166.90 966.3v2.1M166.90 973.0v2.1M166.90 979.7v2.1M166.90 984.1v2.1M166.90 989.1v2.1M166.90 992.5v2.1M166.90 997.2v2.1M166.90 1001.7v2.1M166.90 1004.4v2.1M166.90 1009.2v2.1M166.90 1013.7v2.1M166.90 1020.4v2.1M166.90 1024.7v2.1M166.90 1031.4v2.1M166.90 1035.7v2.1M166.90 1040.0v2.1M166.90 1043.6v2.1M166.90 1050.3v2.1M166.90 1053.8v2.1M166.90 1056.5v2.1M166.90 1063.3v2.1M166.90 1068.0v2.1M166.90 1072.7v2.1" stroke="#0072BD" stroke-width="1.8" fill="none"/>
<path d="M172.71 666.1v2.1M172.71 668.8v2.1M172.71 671.5v2.1M172.71 674.2v2.1M172.71 678.5v2.1M172.71 682.8v2.1M172.71 685.5v2.1M172.71 688.3v2.1M172.71 691.0v2.1M172.71 693.7v2.1M172.71 696.5v2.1M172.71 699.2v2.1M172.71 701.9v2.1M172.71 704.6v2.1M172.71 707.7v2.1M172.71 710.8v2.1M172.71 714.2v2.1M172.71 718.5v2.1M172.71 722.8v2.1M172.71 728.7v2.1M172.71 732.6v2.1M172.71 738.5v2.1M172.71 743.8v2.1M172.71 748.9v2.1M172.71 756.3v2.1M172.71 763.6v2.1M172.71 767.6v2.1M172.71 771.9v2.1M172.71 775.8v2.1M172.71 780.1v2.1M172.71 783.9v2.1M172.71 786.6v2.1M172.71 791.0v2.1M172.71 798.3v2.1M172.71 805.7v2.1M172.71 813.0v2.1M172.71 820.4v2.1M172.71 823.1v2.1M172.71 827.4v2.1M172.71 834.8v2.1M172.71 838.6v2.1M172.71 846.0v2.1M172.71 849.9v2.1M172.71 855.1v2.1M172.71 859.1v2.1M172.71 864.1v2.1M172.71 869.5v2.1M172.71 876.9v2.1M172.71 881.5v2.1M172.71 888.9v2.1M172.71 892.8v2.1M172.71 897.0v2.1M172.71 901.7v2.1M172.71 905.8v2.1M172.71 909.9v2.1M172.71 913.8v2.1M172.71 918.5v2.1M172.71 925.9v2.1M172.71 930.3v2.1M172.71 935.0v2.1M172.71 939.4v2.1M172.71 942.1v2.1M172.71 949.4v2.1M172.71 953.7v2.1M172.71 957.6v2.1M172.71 961.9v2.1M172.71 966.2v2.1M172.71 968.9v2.1M172.71 973.0v2.1M172.71 975.7v2.1M172.71 979.9v2.1M172.71 985.2v2.1M172.71 990.5v2.1M172.71 994.4v2.1M172.71 1001.8v2.1M172.71 1004.5v2.1M172.71 1009.4v2.1M172.71 1013.8v2.1M172.71 1018.8v2.1M172.71 1026.2v2.1M172.71 1030.5v2.1M172.71 1034.5v2.1M172.71 1037.2v2.1M172.71 1042.2v2.1M172.71 1046.0v2.1M172.71 1048.7v2.1M172.71 1056.0v2.1M172.71 1063.4v2.1M172.71 1067.8v2.1M172.71 1070.5v2.1" stroke="#0072BD" stroke-width="1.8" fill="none"/>
<path d="M178.52 668.5v2.1M178.52 672.8v2.1M178.52 675.6v2.1M178.52 678.3v2.1M178.52 681.2v2.1M178.52 683.9v2.1M178.52 686.9v2.1M178.52 691.2v2.1M178.52 693.9v2.1M178.52 696.7v2.1M178.52 699.4v2.1M178.52 703.7v2.1M178.52 706.4v2.1M178.52 709.1v2.1M178.52 712.1v2.1M178.52 714.8v2.1M178.52 718.1v2.1M178.52 722.0v2.1M178.52 727.5v2.1M178.52 730.2v2.1M178.52 733.6v2.1M178.52 737.3v2.1M178.52 742.1v2.1M178.52 746.2v2.1M178.52 748.9v2.1M178.52 753.0v2.1M178.52 757.9v2.1M178.52 760.6v2.1M178.52 764.0v2.1M178.52 768.7v2.1M178.52 775.4v2.1M178.52 780.4v2.1M178.52 784.7v2.1M178.52 791.4v2.1M178.52 794.1v2.1M178.52 798.2v2.1M178.52 804.9v2.1M178.52 808.5v2.1M178.52 813.0v2.1M178.52 819.7v2.1M178.52 826.4v2.1M178.52 830.5v2.1M178.52 834.5v2.1M178.52 841.2v2.1M178.52 844.8v2.1M178.52 848.7v2.1M178.52 853.0v2.1M178.52 856.6v2.1M178.52 861.0v2.1M178.52 865.7v2.1M178.52 869.2v2.1M178.52 875.9v2.1M178.52 879.6v2.1M178.52 882.3v2.1M178.52 889.1v2.1M178.52 895.8v2.1M178.52 899.9v2.1M178.52 902.6v2.1M178.52 906.7v2.1M178.52 910.4v2.1M178.52 913.1v2.1M178.52 915.8v2.1M178.52 920.4v2.1M178.52 923.1v2.1M178.52 928.1v2.1M178.52 931.6v2.1M178.52 935.7v2.1M178.52 942.5v2.1M178.52 945.8v2.1M178.52 950.3v2.1M178.52 955.2v2.1M178.52 959.0v2.1M178.52 965.7v2.1M178.52 968.4v2.1M178.52 971.1v2.1M178.52 975.9v2.1M178.52 982.6v2.1M178.52 989.3v2.1M178.52 994.1v2.1M178.52 997.7v2.1M178.52 1002.5v2.1M178.52 1006.4v2.1M178.52 1013.1v2.1M178.52 1017.0v2.1M178.52 1021.3v2.1M178.52 1026.1v2.1M178.52 1032.8v2.1M178.52 1035.5v2.1M178.52 1039.9v2.1M178.52 1044.4v2.1M178.52 1049.4v2.1M178.52 1053.6v2.1M178.52 1060.3v2.1M178.52 1067.0v2.1M178.52 1070.5v2.1M178.52 1074.2v2.1" stroke="#0072BD" stroke-width="1.8" fill="none"/>
<path d="M184.34 670.5v2.1M184.34 673.2v2.1M184.34 675.9v2.1M184.34 678.6v2.1M184.34 681.3v2.1M184.34 684.4v2.1M184.34 687.1v2.1M184.34 691.4v2.1M184.34 694.1v2.1M184.34 696.8v2.1M184.34 699.7v2.1M184.34 702.8v2.1M184.34 707.2v2.1M184.34 711.5v2.1M184.34 714.2v2.1M184.34 717.3v2.1M184.34 720.0v2.1M184.34 723.4v2.1M184.34 727.4v2.1M184.34 731.5v2.1M184.34 735.1v2.1M184.34 737.9v2.1M184.34 741.5v2.1M184.34 748.3v2.1M184.34 753.2v2.1M184.34 757.7v2.1M184.34 764.4v2.1M184.34 769.2v2.1M184.34 771.9v2.1M184.34 778.7v2.1M184.34 782.8v2.1M184.34 785.5v2.1M184.34 789.5v2.1M184.34 793.5v2.1M184.34 797.8v2.1M184.34 801.4v2.1M184.34 808.1v2.1M184.34 812.4v2.1M184.34 815.1v2.1M184.34 818.9v2.1M184.34 821.6v2.1M184.34 825.3v2.1M184.34 829.6v2.1M184.34 836.4v2.1M184.34 839.9v2.1M184.34 844.3v2.1M184.34 847.0v2.1M184.34 850.4v2.1M184.34 855.3v2.1M184.34 859.8v2.1M184.34 863.4v2.1M184.34 867.9v2.1M184.34 870.6v2.1M184.34 874.7v2.1M184.34 881.4v2.1M184.34 885.7v2.1M184.34 889.3v2.1M184.34 892.7v2.1M184.34 899.4v2.1M184.34 902.8v2.1M184.34 906.6v2.1M184.34 913.3v2.1M184.34 917.3v2.1M184.34 921.8v2.1M184.34 926.1v2.1M184.34 930.9v2.1M184.34 937.6v2.1M184.34 941.5v2.1M184.34 946.0v2.1M184.34 949.6v2.1M184.34 954.2v2.1M184.34 958.8v2.1M184.34 961.5v2.1M184.34 965.0v2.1M184.34 969.7v2.1M184.34 972.4v2.1M184.34 976.9v2.1M184.34 983.6v2.1M184.34 990.3v2.1M184.34 995.1v2.1M184.34 998.7v2.1M184.34 1001.4v2.1M184.34 1004.1v2.1M184.34 1007.7v2.1M184.34 1011.6v2.1M184.34 1015.6v2.1M184.34 1018.3v2.1M184.34 1022.5v2.1M184.34 1027.3v2.1M184.34 1030.6v2.1M184.34 1034.3v2.1M184.34 1039.1v2.1M184.34 1042.5v2.1M184.34 1049.2v2.1M184.34 1053.7v2.1M184.34 1057.9v2.1M184.34 1064.6v2.1M184.34 1068.6v2.1M184.34 1073.0v2.1" stroke="#0072BD" stroke-width="1.8" fill="none"/>
<path d="M190.15 672.6v2.1M190.15 675.3v2.1M190.15 678.1v2.1M190.15 680.8v2.1M190.15 685.1v2.1M190.15 687.8v2.1M190.15 690.5v2.1M190.15 693.2v2.1M190.15 695.9v2.1M190.15 698.6v2.1M190.15 701.8v2.1M190.15 704.5v2.1M190.15 707.2v2.1M190.15 709.9v2.1M190.15 714.3v2.1M190.15 717.0v2.1M190.15 720.3v2.1M190.15 724.4v2.1M190.15 727.1v2.1M190.15 730.8v2.1M190.15 734.5v2.1M190.15 738.0v2.1M190.15 741.1v2.1M190.15 744.9v2.1M190.15 749.2v2.1M190.15 753.6v2.1M190.15 757.7v2.1M190.15 761.4v2.1M190.15 765.3v2.1M190.15 768.0v2.1M190.15 771.7v2.1M190.15 775.7v2.1M190.15 779.2v2.1M190.15 785.6v2.1M190.15 789.1v2.1M190.15 791.8v2.1M190.15 795.7v2.1M190.15 799.8v2.1M190.15 803.3v2.1M190.15 806.0v2.1M190.15 809.7v2.1M190.15 813.7v2.1M190.15 817.5v2.1M190.15 821.6v2.1M190.15 824.3v2.1M190.15 830.7v2.1M190.15 835.5v2.1M190.15 839.9v2.1M190.15 844.5v2.1M190.15 847.2v2.1M190.15 851.9v2.1M190.15 858.3v2.1M190.15 864.7v2.1M190.15 867.4v2.1M190.15 873.8v2.1M190.15 880.2v2.1M190.15 883.7v2.1M190.15 887.2v2.1M190.15 891.8v2.1M190.15 895.3v2.1M190.15 900.1v2.1M190.15 903.4v2.1M190.15 908.0v2.1M190.15 911.4v2.1M190.15 917.8v2.1M190.15 922.4v2.1M190.15 927.1v2.1M190.15 933.5v2.1M190.15 937.9v2.1M190.15 941.7v2.1M190.15 945.5v2.1M190.15 948.2v2.1M190.15 951.5v2.1M190.15 955.2v2.1M190.15 959.3v2.1M190.15 965.7v2.1M190.15 969.0v2.1M190.15 973.1v2.1M190.15 976.4v2.1M190.15 980.7v2.1M190.15 984.1v2.1M190.15 990.5v2.1M190.15 993.2v2.1M190.15 996.5v2.1M190.15 1000.4v2.1M190.15 1004.5v2.1M190.15 1008.8v2.1M190.15 1012.5v2.1M190.15 1016.1v2.1M190.15 1020.5v2.1M190.15 1024.2v2.1M190.15 1029.0v2.1M190.15 1032.7v2.1M190.15 1037.4v2.1M190.15 1040.1v2.1M190.15 1042.8v2.1M190.15 1047.0v2.1M190.15 1050.8v2.1M190.15 1054.3v2.1M190.15 1057.7v2.1M190.15 1060.4v2.1M190.15 1063.1v2.1M190.15 1065.8v2.1M190.15 1069.9v2.1" stroke="#0072BD" stroke-width="1.8" fill="none"/>
<path d="M195.97 675.0v2.1M195.97 677.7v2.1M195.97 680.4v2.1M195.97 684.7v2.1M195.97 687.9v2.1M195.97 692.2v2.1M195.97 694.9v2.1M195.97 697.6v2.1M195.97 700.3v2.1M195.97 703.0v2.1M195.97 705.7v2.1M195.97 708.8v2.1M195.97 711.5v2.1M195.97 714.2v2.1M195.97 716.9v2.1M195.97 719.6v2.1M195.97 722.8v2.1M195.97 726.6v2.1M195.97 729.5v2.1M195.97 734.7v2.1M195.97 739.9v2.1M195.97 742.8v2.1M195.97 748.0v2.1M195.97 752.0v2.1M195.97 758.1v2.1M195.97 761.5v2.1M195.97 764.7v2.1M195.97 769.1v2.1M195.97 775.2v2.1M195.97 779.5v2.1M195.97 785.5v2.1M195.97 789.3v2.1M195.97 792.6v2.1M195.97 796.6v2.1M195.97 800.5v2.1M195.97 803.8v2.1M195.97 807.4v2.1M195.97 811.8v2.1M195.97 817.9v2.1M195.97 822.4v2.1M195.97 828.5v2.1M195.97 831.2v2.1M195.97 833.9v2.1M195.97 836.9v2.1M195.97 840.2v2.1M195.97 843.4v2.1M195.97 849.5v2.1M195.97 852.7v2.1M195.97 857.1v2.1M195.97 861.5v2.1M195.97 864.6v2.1M195.97 870.6v2.1M195.97 874.7v2.1M195.97 877.4v2.1M195.97 880.8v2.1M195.97 884.0v2.1M195.97 886.7v2.1M195.97 890.2v2.1M195.97 893.5v2.1M195.97 896.7v2.1M195.97 900.0v2.1M195.97 903.3v2.1M195.97 907.1v2.1M195.97 909.8v2.1M195.97 913.6v2.1M195.97 917.2v2.1M195.97 923.2v2.1M195.97 927.6v2.1M195.97 931.1v2.1M195.97 937.2v2.1M195.97 943.2v2.1M195.97 945.9v2.1M195.97 948.6v2.1M195.97 952.3v2.1M195.97 955.9v2.1M195.97 958.6v2.1M195.97 962.6v2.1M195.97 966.5v2.1M195.97 971.0v2.1M195.97 975.2v2.1M195.97 978.7v2.1M195.97 983.2v2.1M195.97 986.8v2.1M195.97 990.1v2.1M195.97 993.1v2.1M195.97 997.6v2.1M195.97 1003.7v2.1M195.97 1007.3v2.1M195.97 1013.3v2.1M195.97 1019.4v2.1M195.97 1022.1v2.1M195.97 1026.4v2.1M195.97 1029.5v2.1M195.97 1033.0v2.1M195.97 1036.9v2.1M195.97 1041.4v2.1M195.97 1044.1v2.1M195.97 1048.4v2.1M195.97 1052.4v2.1M195.97 1055.8v2.1M195.97 1059.9v2.1M195.97 1064.1v2.1M195.97 1067.9v2.1M195.97 1072.0v2.1" stroke="#0072BD" stroke-width="1.8" fill="none"/>
<path d="M201.78 676.7v2.1M201.78 679.4v2.1M201.78 682.1v2.1M201.78 684.8v2.1M201.78 687.5v2.1M201.78 690.2v2.1M201.78 692.9v2.1M201.78 695.7v2.1M201.78 698.4v2.1M201.78 701.1v2.1M201.78 705.4v2.1M201.78 708.1v2.1M201.78 711.2v2.1M201.78 714.3v2.1M201.78 717.0v2.1M201.78 720.0v2.1M201.78 722.7v2.1M201.78 727.9v2.1M201.78 733.1v2.1M201.78 735.8v2.1M201.78 739.5v2.1M201.78 742.6v2.1M201.78 745.3v2.1M201.78 749.9v2.1M201.78 753.6v2.1M201.78 757.9v2.1M201.78 761.1v2.1M201.78 764.7v2.1M201.78 768.1v2.1M201.78 771.7v2.1M201.78 774.8v2.1M201.78 780.8v2.1M201.78 784.0v2.1M201.78 790.1v2.1M201.78 793.5v2.1M201.78 796.9v2.1M201.78 800.1v2.1M201.78 804.4v2.1M201.78 810.5v2.1M201.78 814.8v2.1M201.78 818.4v2.1M201.78 821.1v2.1M201.78 824.7v2.1M201.78 828.2v2.1M201.78 832.2v2.1M201.78 835.8v2.1M201.78 839.7v2.1M201.78 843.0v2.1M201.78 847.1v2.1M201.78 851.2v2.1M201.78 854.3v2.1M201.78 858.0v2.1M201.78 861.7v2.1M201.78 865.9v2.1M201.78 868.6v2.1M201.78 872.4v2.1M201.78 876.7v2.1M201.78 880.5v2.1M201.78 884.2v2.1M201.78 888.0v2.1M201.78 892.0v2.1M201.78 895.7v2.1M201.78 898.4v2.1M201.78 902.3v2.1M201.78 906.5v2.1M201.78 909.2v2.1M201.78 915.3v2.1M201.78 918.0v2.1M201.78 921.2v2.1M201.78 923.9v2.1M201.78 927.8v2.1M201.78 930.5v2.1M201.78 934.6v2.1M201.78 937.7v2.1M201.78 941.4v2.1M201.78 945.9v2.1M201.78 950.3v2.1M201.78 953.0v2.1M201.78 956.8v2.1M201.78 959.5v2.1M201.78 963.0v2.1M201.78 969.1v2.1M201.78 972.5v2.1M201.78 976.4v2.1M201.78 980.1v2.1M201.78 982.8v2.1M201.78 987.1v2.1M201.78 991.5v2.1M201.78 997.5v2.1M201.78 1003.6v2.1M201.78 1006.3v2.1M201.78 1009.9v2.1M201.78 1013.7v2.1M201.78 1017.3v2.1M201.78 1020.6v2.1M201.78 1024.5v2.1M201.78 1027.2v2.1M201.78 1031.1v2.1M201.78 1035.0v2.1M201.78 1038.4v2.1M201.78 1041.9v2.1M201.78 1046.2v2.1M201.78 1049.9v2.1M201.78 1053.6v2.1M201.78 1056.8v2.1M201.78 1060.8v2.1M201.78 1063.5v2.1M201.78 1066.6v2.1M201.78 1069.9v2.1M201.78 1073.8v2.1" stroke="#0072BD" stroke-width="1.8" fill="none"/>
<path d="M207.59 678.7v2.1M207.59 681.6v2.1M207.59 685.9v2.1M207.59 690.2v2.1M207.59 692.9v2.1M207.59 695.6v2.1M207.59 698.3v2.1M207.59 701.0v2.1M207.59 704.2v2.1M207.59 707.1v2.1M207.59 711.4v2.1M207.59 714.3v2.1M207.59 718.6v2.1M207.59 721.3v2.1M207.59 724.0v2.1M207.59 726.9v2.1M207.59 732.0v2.1M207.59 734.9v2.1M207.59 737.6v2.1M207.59 740.5v2.1M207.59 743.2v2.1M207.59 747.0v2.1M207.59 749.7v2.1M207.59 753.5v2.1M207.59 759.3v2.1M207.59 762.3v2.1M207.59 766.2v2.1M207.59 770.1v2.1M207.59 772.8v2.1M207.59 775.8v2.1M207.59 780.1v2.1M207.59 783.8v2.1M207.59 789.5v2.1M207.59 793.5v2.1M207.59 797.7v2.1M207.59 800.4v2.1M207.59 804.5v2.1M207.59 808.2v2.1M207.59 810.9v2.1M207.59 813.6v2.1M207.59 819.3v2.1M207.59 823.4v2.1M207.59 829.2v2.1M207.59 832.1v2.1M207.59 836.4v2.1M207.59 840.6v2.1M207.59 843.6v2.1M207.59 847.1v2.1M207.59 852.9v2.1M207.59 856.0v2.1M207.59 859.3v2.1M207.59 862.0v2.1M207.59 865.0v2.1M207.59 869.1v2.1M207.59 872.6v2.1M207.59 875.3v2.1M207.59 878.3v2.1M207.59 881.4v2.1M207.59 884.8v2.1M207.59 888.6v2.1M207.59 894.4v2.1M207.59 900.1v2.1M207.59 903.5v2.1M207.59 907.6v2.1M207.59 910.7v2.1M207.59 913.4v2.1M207.59 916.5v2.1M207.59 920.1v2.1M207.59 922.8v2.1M207.59 925.9v2.1M207.59 929.6v2.1M207.59 932.7v2.1M207.59 935.9v2.1M207.59 938.6v2.1M207.59 944.4v2.1M207.59 948.0v2.1M207.59 950.9v2.1M207.59 954.4v2.1M207.59 958.1v2.1M207.59 961.3v2.1M207.59 964.5v2.1M207.59 970.2v2.1M207.59 972.9v2.1M207.59 976.5v2.1M207.59 982.3v2.1M207.59 985.3v2.1M207.59 988.5v2.1M207.59 992.5v2.1M207.59 995.5v2.1M207.59 1001.3v2.1M207.59 1005.5v2.1M207.59 1008.2v2.1M207.59 1012.1v2.1M207.59 1015.5v2.1M207.59 1019.0v2.1M207.59 1021.9v2.1M207.59 1025.4v2.1M207.59 1028.4v2.1M207.59 1034.2v2.1M207.59 1038.0v2.1M207.59 1043.8v2.1M207.59 1046.9v2.1M207.59 1052.6v2.1M207.59 1058.4v2.1M207.59 1062.7v2.1M207.59 1066.7v2.1M207.59 1070.3v2.1M207.59 1074.5v2.1" stroke="#0072BD" stroke-width="1.8" fill="none"/>
<path d="M213.41 680.8v2.1M213.41 685.1v2.1M213.41 688.2v2.1M213.41 690.9v2.1M213.41 693.6v2.1M213.41 697.9v2.1M213.41 700.8v2.1M213.41 703.5v2.1M213.41 706.7v2.1M213.41 709.6v2.1M213.41 712.7v2.1M213.41 715.4v2.1M213.41 718.4v2.1M213.41 721.1v2.1M213.41 723.8v2.1M213.41 726.5v2.1M213.41 730.0v2.1M213.41 735.1v2.1M213.41 737.9v2.1M213.41 742.9v2.1M213.41 745.7v2.1M213.41 749.4v2.1M213.41 753.3v2.1M213.41 757.3v2.1M213.41 761.2v2.1M213.41 765.2v2.1M213.41 768.2v2.1M213.41 772.3v2.1M213.41 776.1v2.1M213.41 780.1v2.1M213.41 782.8v2.1M213.41 785.7v2.1M213.41 788.4v2.1M213.41 791.9v2.1M213.41 795.4v2.1M213.41 798.6v2.1M213.41 802.7v2.1M213.41 806.0v2.1M213.41 808.7v2.1M213.41 814.5v2.1M213.41 818.0v2.1M213.41 822.0v2.1M213.41 824.7v2.1M213.41 827.7v2.1M213.41 830.8v2.1M213.41 836.6v2.1M213.41 840.0v2.1M213.41 845.7v2.1M213.41 849.5v2.1M213.41 852.9v2.1M213.41 857.2v2.1M213.41 861.5v2.1M213.41 867.2v2.1M213.41 870.4v2.1M213.41 873.2v2.1M213.41 879.0v2.1M213.41 882.5v2.1M213.41 885.8v2.1M213.41 888.8v2.1M213.41 892.9v2.1M213.41 896.3v2.1M213.41 900.5v2.1M213.41 903.5v2.1M213.41 907.0v2.1M213.41 910.4v2.1M213.41 914.2v2.1M213.41 917.8v2.1M213.41 922.0v2.1M213.41 925.4v2.1M213.41 928.4v2.1M213.41 932.3v2.1M213.41 935.8v2.1M213.41 939.9v2.1M213.41 943.9v2.1M213.41 946.6v2.1M213.41 949.7v2.1M213.41 953.8v2.1M213.41 956.5v2.1M213.41 960.3v2.1M213.41 963.0v2.1M213.41 966.9v2.1M213.41 970.2v2.1M213.41 973.5v2.1M213.41 977.0v2.1M213.41 980.8v2.1M213.41 984.7v2.1M213.41 988.9v2.1M213.41 992.8v2.1M213.41 998.6v2.1M213.41 1004.3v2.1M213.41 1008.4v2.1M213.41 1011.8v2.1M213.41 1014.5v2.1M213.41 1018.6v2.1M213.41 1024.4v2.1M213.41 1027.5v2.1M213.41 1030.5v2.1M213.41 1036.2v2.1M213.41 1040.5v2.1M213.41 1043.6v2.1M213.41 1047.9v2.1M213.41 1053.6v2.1M213.41 1057.1v2.1M213.41 1059.8v2.1M213.41 1065.6v2.1M213.41 1069.0v2.1M213.41 1072.3v2.1" stroke="#0072BD" stroke-width="1.8" fill="none"/>
<path d="M364.57 788.6v2.2M364.57 792.0v2.2M364.57 795.7v2.2M364.57 798.9v6.4M364.57 806.6v5.0M364.57 813.3v2.2M364.57 817.4v2.2M364.57 821.1v6.6M364.57 828.8v2.2M364.57 832.4v12.7M364.57 846.0v2.2M364.57 849.6v2.2M364.57 853.4v7.4M364.57 861.8v4.7M364.57 868.5v5.3M364.57 875.5v12.7M364.57 889.9v2.2M364.57 893.9v2.2M364.57 898.0v3.3M364.57 902.8v2.2M364.57 906.0v2.2M364.57 909.4v8.6M364.57 919.6v2.3M364.57 923.3v8.4M364.57 933.4v2.2M364.57 936.6v6.3M364.57 944.3v2.2M364.57 948.4v2.2M364.57 952.4v9.5M364.57 962.9v2.2M364.57 966.7v2.2M364.57 969.9v7.8M364.57 978.7v2.2M364.57 981.9v10.2" stroke="#0072BD" stroke-width="2.1" fill="none"/>
<path d="M370.39 792.0v5.4M370.39 798.4v2.2M370.39 801.6v4.5M370.39 807.1v2.2M370.39 810.5v7.4M370.39 818.9v2.2M370.39 822.1v4.5M370.39 827.6v3.8M370.39 832.4v2.2M370.39 835.6v2.2M370.39 839.6v2.2M370.39 843.5v3.2M370.39 847.9v4.5M370.39 854.0v2.3M370.39 857.6v2.2M370.39 861.7v2.2M370.39 865.7v2.2M370.39 868.9v2.2M370.39 872.1v2.2M370.39 875.5v5.5M370.39 882.3v2.2M370.39 885.7v2.2M370.39 889.5v2.6M370.39 893.1v2.2M370.39 896.3v3.7M370.39 901.6v2.2M370.39 905.5v2.2M370.39 909.7v2.2M370.39 913.5v2.2M370.39 916.7v2.2M370.39 920.6v2.2M370.39 923.8v4.5M370.39 930.4v2.2M370.39 933.6v10.3M370.39 945.7v2.2M370.39 948.9v6.8M370.39 956.9v2.2M370.39 961.1v2.2M370.39 964.5v2.2M370.39 967.7v3.7M370.39 972.8v2.2M370.39 976.0v2.2M370.39 979.8v2.2M370.39 984.0v5.9M370.39 991.1v2.2M370.39 995.1v1.1" stroke="#0072BD" stroke-width="2.1" fill="none"/>
<path d="M376.20 795.9v2.2M376.20 799.1v2.2M376.20 803.0v2.2M376.20 807.2v2.2M376.20 810.4v9.7M376.20 821.4v2.2M376.20 824.6v2.2M376.20 827.9v4.0M376.20 832.9v2.7M376.20 837.1v5.5M376.20 843.8v5.8M376.20 850.6v2.3M376.20 854.5v2.2M376.20 857.7v5.3M376.20 864.3v10.8M376.20 876.5v2.2M376.20 880.8v2.2M376.20 884.8v2.2M376.20 888.5v2.2M376.20 891.7v14.0M376.20 907.4v2.2M376.20 910.6v2.2M376.20 913.8v12.0M376.20 927.4v2.2M376.20 930.6v2.2M376.20 934.5v14.0M376.20 950.1v7.4M376.20 958.5v2.2M376.20 962.4v2.2M376.20 966.6v8.6M376.20 976.5v2.2M376.20 980.1v4.1M376.20 985.9v2.2M376.20 989.5v0.3" stroke="#0072BD" stroke-width="2.1" fill="none"/>
<path d="M382.01 806.2v2.2M382.01 809.4v2.2M382.01 813.4v2.2M382.01 817.1v2.5M382.01 820.6v2.2M382.01 824.2v2.2M382.01 828.1v2.2M382.01 832.1v2.2M382.01 835.3v2.2M382.01 838.5v14.0M382.01 854.2v2.2M382.01 857.4v4.1M382.01 862.9v2.4M382.01 866.7v11.2M382.01 879.5v2.2M382.01 883.7v2.2M382.01 887.5v5.1M382.01 894.5v9.5M382.01 905.0v2.2M382.01 908.4v2.2M382.01 911.6v2.2M382.01 914.8v2.6M382.01 919.5v12.1M382.01 933.3v2.2M382.01 937.6v2.2M382.01 940.8v2.4M382.01 944.2v9.8M382.01 955.9v6.6M382.01 964.3v2.2M382.01 968.2v2.2M382.01 972.2v4.4M382.01 977.8v8.5" stroke="#0072BD" stroke-width="2.1" fill="none"/>
<path d="M387.83 818.0V974.6" stroke="#0072BD" stroke-width="2.1" fill="none"/>
<path d="M393.64 831.9V965.0" stroke="#0072BD" stroke-width="2.1" fill="none"/>
<path d="M399.46 845.1V956.8" stroke="#0072BD" stroke-width="2.1" fill="none"/>
<path d="M405.27 859.5V945.4" stroke="#0072BD" stroke-width="2.1" fill="none"/>
<path d="M411.08 880.0V926.7" stroke="#0072BD" stroke-width="2.1" fill="none"/>
<rect x="84.5" y="629.6" width="2.0" height="2.0" fill="#0072BD"/>
<rect x="90.3" y="631.3" width="2.0" height="2.0" fill="#0072BD"/>
<rect x="96.1" y="634.3" width="2.0" height="2.0" fill="#0072BD"/>
<rect x="101.9" y="636.6" width="2.0" height="2.0" fill="#0072BD"/>
<rect x="107.8" y="638.8" width="2.0" height="2.0" fill="#0072BD"/>
<rect x="113.6" y="640.7" width="2.0" height="2.0" fill="#0072BD"/>
<rect x="119.4" y="643.1" width="2.0" height="2.0" fill="#0072BD"/>
<rect x="125.2" y="645.2" width="2.0" height="2.0" fill="#0072BD"/>
<rect x="131.0" y="647.6" width="2.0" height="2.0" fill="#0072BD"/>
<rect x="136.8" y="650.1" width="2.0" height="2.0" fill="#0072BD"/>
<rect x="142.6" y="652.3" width="2.0" height="2.0" fill="#0072BD"/>
<rect x="148.5" y="654.8" width="2.0" height="2.0" fill="#0072BD"/>
<rect x="154.3" y="656.8" width="2.0" height="2.0" fill="#0072BD"/>
<rect x="160.1" y="659.3" width="2.0" height="2.0" fill="#0072BD"/>
<rect x="165.9" y="661.5" width="2.0" height="2.0" fill="#0072BD"/>
<rect x="171.7" y="663.6" width="2.0" height="2.0" fill="#0072BD"/>
<rect x="177.5" y="666.0" width="2.0" height="2.0" fill="#0072BD"/>
<rect x="183.3" y="668.0" width="2.0" height="2.0" fill="#0072BD"/>
<rect x="189.2" y="670.1" width="2.0" height="2.0" fill="#0072BD"/>
<rect x="195.0" y="672.5" width="2.0" height="2.0" fill="#0072BD"/>
<rect x="200.8" y="674.2" width="2.0" height="2.0" fill="#0072BD"/>
<rect x="206.6" y="676.2" width="2.0" height="2.0" fill="#0072BD"/>
<rect x="212.4" y="678.3" width="2.0" height="2.0" fill="#0072BD"/>
<rect x="218.2" y="891.2" width="2.0" height="2.0" fill="#0072BD"/>
<rect x="224.0" y="886.2" width="2.0" height="2.0" fill="#0072BD"/>
<rect x="229.8" y="879.6" width="2.0" height="2.0" fill="#0072BD"/>
<rect x="235.7" y="822.9" width="2.0" height="2.0" fill="#0072BD"/>
<rect x="241.5" y="827.9" width="2.0" height="2.0" fill="#0072BD"/>
<rect x="247.3" y="832.6" width="2.0" height="2.0" fill="#0072BD"/>
<rect x="253.1" y="837.3" width="2.0" height="2.0" fill="#0072BD"/>
<rect x="258.9" y="842.8" width="2.0" height="2.0" fill="#0072BD"/>
<rect x="264.7" y="848.6" width="2.0" height="2.0" fill="#0072BD"/>
<rect x="270.5" y="854.4" width="2.0" height="2.0" fill="#0072BD"/>
<rect x="276.4" y="859.9" width="2.0" height="2.0" fill="#0072BD"/>
<rect x="282.2" y="865.7" width="2.0" height="2.0" fill="#0072BD"/>
<rect x="288.0" y="871.0" width="2.0" height="2.0" fill="#0072BD"/>
<rect x="293.8" y="876.2" width="2.0" height="2.0" fill="#0072BD"/>
<rect x="299.6" y="880.8" width="2.0" height="2.0" fill="#0072BD"/>
<rect x="305.4" y="885.0" width="2.0" height="2.0" fill="#0072BD"/>
<rect x="311.2" y="888.6" width="2.0" height="2.0" fill="#0072BD"/>
<rect x="317.1" y="891.7" width="2.0" height="2.0" fill="#0072BD"/>
<rect x="322.9" y="894.2" width="2.0" height="2.0" fill="#0072BD"/>
<rect x="328.7" y="896.1" width="2.0" height="2.0" fill="#0072BD"/>
<rect x="334.5" y="897.7" width="2.0" height="2.0" fill="#0072BD"/>
<rect x="340.3" y="898.8" width="2.0" height="2.0" fill="#0072BD"/>
<rect x="346.1" y="899.6" width="2.0" height="2.0" fill="#0072BD"/>
<rect x="351.9" y="900.1" width="2.0" height="2.0" fill="#0072BD"/>
<rect x="357.8" y="900.4" width="2.0" height="2.0" fill="#0072BD"/>
<rect x="363.6" y="786.1" width="2.0" height="2.0" fill="#0072BD"/>
<rect x="369.4" y="789.5" width="2.0" height="2.0" fill="#0072BD"/>
<rect x="375.2" y="793.4" width="2.0" height="2.0" fill="#0072BD"/>
<rect x="381.0" y="803.7" width="2.0" height="2.0" fill="#0072BD"/>
<rect x="386.8" y="815.5" width="2.0" height="2.0" fill="#0072BD"/>
<rect x="392.6" y="829.4" width="2.0" height="2.0" fill="#0072BD"/>
<rect x="398.5" y="842.6" width="2.0" height="2.0" fill="#0072BD"/>
<rect x="404.3" y="857.0" width="2.0" height="2.0" fill="#0072BD"/>
<rect x="410.1" y="877.5" width="2.0" height="2.0" fill="#0072BD"/>
<rect x="415.9" y="899.6" width="2.0" height="2.0" fill="#0072BD"/>
<rect x="421.7" y="900.8" width="2.0" height="2.0" fill="#0072BD"/>
<rect x="427.5" y="899.9" width="2.0" height="2.0" fill="#0072BD"/>
<rect x="433.3" y="898.7" width="2.0" height="2.0" fill="#0072BD"/>
<rect x="439.2" y="897.0" width="2.0" height="2.0" fill="#0072BD"/>
<rect x="445.0" y="895.0" width="2.0" height="2.0" fill="#0072BD"/>
<rect x="450.8" y="892.3" width="2.0" height="2.0" fill="#0072BD"/>
<rect x="456.6" y="888.0" width="2.0" height="2.0" fill="#0072BD"/>
<rect x="462.4" y="879.1" width="2.0" height="2.0" fill="#0072BD"/>
<rect x="468.2" y="838.1" width="2.0" height="2.0" fill="#0072BD"/>
<rect x="474.0" y="843.5" width="2.0" height="2.0" fill="#0072BD"/>
<rect x="479.9" y="849.2" width="2.0" height="2.0" fill="#0072BD"/>
<rect x="485.7" y="854.6" width="2.0" height="2.0" fill="#0072BD"/>
<rect x="491.5" y="861.0" width="2.0" height="2.0" fill="#0072BD"/>
<rect x="497.3" y="867.0" width="2.0" height="2.0" fill="#0072BD"/>
<rect x="503.1" y="872.7" width="2.0" height="2.0" fill="#0072BD"/>
<rect x="508.9" y="878.4" width="2.0" height="2.0" fill="#0072BD"/>
<rect x="514.7" y="883.5" width="2.0" height="2.0" fill="#0072BD"/>
<rect x="520.5" y="888.2" width="2.0" height="2.0" fill="#0072BD"/>
<rect x="526.4" y="892.2" width="2.0" height="2.0" fill="#0072BD"/>
<rect x="532.2" y="895.6" width="2.0" height="2.0" fill="#0072BD"/>
<rect x="538.0" y="898.6" width="2.0" height="2.0" fill="#0072BD"/>
<rect x="543.8" y="900.9" width="2.0" height="2.0" fill="#0072BD"/>
<rect x="549.6" y="902.9" width="2.0" height="2.0" fill="#0072BD"/>
<rect x="555.4" y="904.6" width="2.0" height="2.0" fill="#0072BD"/>
<rect x="561.2" y="906.0" width="2.0" height="2.0" fill="#0072BD"/>
<rect x="567.1" y="907.3" width="2.0" height="2.0" fill="#0072BD"/>
<rect x="572.9" y="908.3" width="2.0" height="2.0" fill="#0072BD"/>
<rect x="578.7" y="909.3" width="2.0" height="2.0" fill="#0072BD"/>
<rect x="584.5" y="910.0" width="2.0" height="2.0" fill="#0072BD"/>
<rect x="590.3" y="910.7" width="2.0" height="2.0" fill="#0072BD"/>
<rect x="596.1" y="911.3" width="2.0" height="2.0" fill="#0072BD"/>
<rect x="601.9" y="912.0" width="2.0" height="2.0" fill="#0072BD"/>
<rect x="607.8" y="912.7" width="2.0" height="2.0" fill="#0072BD"/>
<rect x="613.6" y="913.4" width="2.0" height="2.0" fill="#0072BD"/>
<rect x="619.4" y="913.7" width="2.0" height="2.0" fill="#0072BD"/>
<rect x="625.2" y="914.0" width="2.0" height="2.0" fill="#0072BD"/>
<rect x="631.0" y="914.4" width="2.0" height="2.0" fill="#0072BD"/>
<rect x="636.8" y="914.7" width="2.0" height="2.0" fill="#0072BD"/>
<rect x="642.6" y="915.0" width="2.0" height="2.0" fill="#0072BD"/>
<rect x="648.5" y="915.4" width="2.0" height="2.0" fill="#0072BD"/>
<rect x="654.3" y="915.7" width="2.0" height="2.0" fill="#0072BD"/>
<rect x="660.1" y="915.7" width="2.0" height="2.0" fill="#0072BD"/>
<rect x="665.9" y="916.0" width="2.0" height="2.0" fill="#0072BD"/>
<path d="M416.90 900.6V905.5" stroke="#0072BD" stroke-width="2.1" fill="none"/>
</g>
<path d="M87.71 632.30a3.6 3.6 0 1 0 7.2 0a3.6 3.6 0 1 0 -7.2 0M93.53 635.30a3.6 3.6 0 1 0 7.2 0a3.6 3.6 0 1 0 -7.2 0M99.34 637.60a3.6 3.6 0 1 0 7.2 0a3.6 3.6 0 1 0 -7.2 0M105.16 639.80a3.6 3.6 0 1 0 7.2 0a3.6 3.6 0 1 0 -7.2 0M110.97 641.70a3.6 3.6 0 1 0 7.2 0a3.6 3.6 0 1 0 -7.2 0M116.78 644.10a3.6 3.6 0 1 0 7.2 0a3.6 3.6 0 1 0 -7.2 0M122.60 646.20a3.6 3.6 0 1 0 7.2 0a3.6 3.6 0 1 0 -7.2 0M128.41 648.60a3.6 3.6 0 1 0 7.2 0a3.6 3.6 0 1 0 -7.2 0M134.23 651.10a3.6 3.6 0 1 0 7.2 0a3.6 3.6 0 1 0 -7.2 0M140.04 653.30a3.6 3.6 0 1 0 7.2 0a3.6 3.6 0 1 0 -7.2 0M145.85 655.80a3.6 3.6 0 1 0 7.2 0a3.6 3.6 0 1 0 -7.2 0M151.67 657.80a3.6 3.6 0 1 0 7.2 0a3.6 3.6 0 1 0 -7.2 0M157.48 660.30a3.6 3.6 0 1 0 7.2 0a3.6 3.6 0 1 0 -7.2 0M163.30 662.50a3.6 3.6 0 1 0 7.2 0a3.6 3.6 0 1 0 -7.2 0M169.11 664.60a3.6 3.6 0 1 0 7.2 0a3.6 3.6 0 1 0 -7.2 0M174.92 667.00a3.6 3.6 0 1 0 7.2 0a3.6 3.6 0 1 0 -7.2 0M180.74 669.00a3.6 3.6 0 1 0 7.2 0a3.6 3.6 0 1 0 -7.2 0M186.55 671.10a3.6 3.6 0 1 0 7.2 0a3.6 3.6 0 1 0 -7.2 0M192.37 673.50a3.6 3.6 0 1 0 7.2 0a3.6 3.6 0 1 0 -7.2 0M198.18 675.20a3.6 3.6 0 1 0 7.2 0a3.6 3.6 0 1 0 -7.2 0M203.99 677.20a3.6 3.6 0 1 0 7.2 0a3.6 3.6 0 1 0 -7.2 0M209.81 679.30a3.6 3.6 0 1 0 7.2 0a3.6 3.6 0 1 0 -7.2 0M215.62 892.20a3.6 3.6 0 1 0 7.2 0a3.6 3.6 0 1 0 -7.2 0M221.44 887.20a3.6 3.6 0 1 0 7.2 0a3.6 3.6 0 1 0 -7.2 0M227.25 880.60a3.6 3.6 0 1 0 7.2 0a3.6 3.6 0 1 0 -7.2 0M233.06 823.90a3.6 3.6 0 1 0 7.2 0a3.6 3.6 0 1 0 -7.2 0M238.88 828.90a3.6 3.6 0 1 0 7.2 0a3.6 3.6 0 1 0 -7.2 0M244.69 833.60a3.6 3.6 0 1 0 7.2 0a3.6 3.6 0 1 0 -7.2 0M250.51 838.30a3.6 3.6 0 1 0 7.2 0a3.6 3.6 0 1 0 -7.2 0M256.32 843.80a3.6 3.6 0 1 0 7.2 0a3.6 3.6 0 1 0 -7.2 0M262.13 849.60a3.6 3.6 0 1 0 7.2 0a3.6 3.6 0 1 0 -7.2 0M267.95 855.40a3.6 3.6 0 1 0 7.2 0a3.6 3.6 0 1 0 -7.2 0M273.76 860.90a3.6 3.6 0 1 0 7.2 0a3.6 3.6 0 1 0 -7.2 0M279.58 866.70a3.6 3.6 0 1 0 7.2 0a3.6 3.6 0 1 0 -7.2 0M285.39 872.00a3.6 3.6 0 1 0 7.2 0a3.6 3.6 0 1 0 -7.2 0M291.20 877.20a3.6 3.6 0 1 0 7.2 0a3.6 3.6 0 1 0 -7.2 0M297.02 881.80a3.6 3.6 0 1 0 7.2 0a3.6 3.6 0 1 0 -7.2 0M302.83 886.00a3.6 3.6 0 1 0 7.2 0a3.6 3.6 0 1 0 -7.2 0M308.65 889.60a3.6 3.6 0 1 0 7.2 0a3.6 3.6 0 1 0 -7.2 0M314.46 892.70a3.6 3.6 0 1 0 7.2 0a3.6 3.6 0 1 0 -7.2 0M320.27 895.20a3.6 3.6 0 1 0 7.2 0a3.6 3.6 0 1 0 -7.2 0M326.09 897.10a3.6 3.6 0 1 0 7.2 0a3.6 3.6 0 1 0 -7.2 0M331.90 898.70a3.6 3.6 0 1 0 7.2 0a3.6 3.6 0 1 0 -7.2 0M337.72 899.80a3.6 3.6 0 1 0 7.2 0a3.6 3.6 0 1 0 -7.2 0M343.53 900.60a3.6 3.6 0 1 0 7.2 0a3.6 3.6 0 1 0 -7.2 0M349.34 901.10a3.6 3.6 0 1 0 7.2 0a3.6 3.6 0 1 0 -7.2 0M355.16 901.40a3.6 3.6 0 1 0 7.2 0a3.6 3.6 0 1 0 -7.2 0M360.97 787.10a3.6 3.6 0 1 0 7.2 0a3.6 3.6 0 1 0 -7.2 0M366.79 790.50a3.6 3.6 0 1 0 7.2 0a3.6 3.6 0 1 0 -7.2 0M372.60 794.40a3.6 3.6 0 1 0 7.2 0a3.6 3.6 0 1 0 -7.2 0M378.41 804.70a3.6 3.6 0 1 0 7.2 0a3.6 3.6 0 1 0 -7.2 0M384.23 816.50a3.6 3.6 0 1 0 7.2 0a3.6 3.6 0 1 0 -7.2 0M390.04 830.40a3.6 3.6 0 1 0 7.2 0a3.6 3.6 0 1 0 -7.2 0M395.86 843.60a3.6 3.6 0 1 0 7.2 0a3.6 3.6 0 1 0 -7.2 0M401.67 858.00a3.6 3.6 0 1 0 7.2 0a3.6 3.6 0 1 0 -7.2 0M407.48 878.50a3.6 3.6 0 1 0 7.2 0a3.6 3.6 0 1 0 -7.2 0M413.30 900.60a3.6 3.6 0 1 0 7.2 0a3.6 3.6 0 1 0 -7.2 0M419.11 901.80a3.6 3.6 0 1 0 7.2 0a3.6 3.6 0 1 0 -7.2 0M424.93 900.90a3.6 3.6 0 1 0 7.2 0a3.6 3.6 0 1 0 -7.2 0M430.74 899.70a3.6 3.6 0 1 0 7.2 0a3.6 3.6 0 1 0 -7.2 0M436.55 898.00a3.6 3.6 0 1 0 7.2 0a3.6 3.6 0 1 0 -7.2 0M442.37 896.00a3.6 3.6 0 1 0 7.2 0a3.6 3.6 0 1 0 -7.2 0M448.18 893.30a3.6 3.6 0 1 0 7.2 0a3.6 3.6 0 1 0 -7.2 0M454.00 889.00a3.6 3.6 0 1 0 7.2 0a3.6 3.6 0 1 0 -7.2 0M459.81 880.10a3.6 3.6 0 1 0 7.2 0a3.6 3.6 0 1 0 -7.2 0M465.62 839.10a3.6 3.6 0 1 0 7.2 0a3.6 3.6 0 1 0 -7.2 0M471.44 844.50a3.6 3.6 0 1 0 7.2 0a3.6 3.6 0 1 0 -7.2 0M477.25 850.20a3.6 3.6 0 1 0 7.2 0a3.6 3.6 0 1 0 -7.2 0M483.07 855.60a3.6 3.6 0 1 0 7.2 0a3.6 3.6 0 1 0 -7.2 0M488.88 862.00a3.6 3.6 0 1 0 7.2 0a3.6 3.6 0 1 0 -7.2 0M494.69 868.00a3.6 3.6 0 1 0 7.2 0a3.6 3.6 0 1 0 -7.2 0M500.51 873.70a3.6 3.6 0 1 0 7.2 0a3.6 3.6 0 1 0 -7.2 0M506.32 879.40a3.6 3.6 0 1 0 7.2 0a3.6 3.6 0 1 0 -7.2 0M512.14 884.50a3.6 3.6 0 1 0 7.2 0a3.6 3.6 0 1 0 -7.2 0M517.95 889.20a3.6 3.6 0 1 0 7.2 0a3.6 3.6 0 1 0 -7.2 0M523.76 893.20a3.6 3.6 0 1 0 7.2 0a3.6 3.6 0 1 0 -7.2 0M529.58 896.60a3.6 3.6 0 1 0 7.2 0a3.6 3.6 0 1 0 -7.2 0M535.39 899.60a3.6 3.6 0 1 0 7.2 0a3.6 3.6 0 1 0 -7.2 0M541.21 901.90a3.6 3.6 0 1 0 7.2 0a3.6 3.6 0 1 0 -7.2 0M547.02 903.90a3.6 3.6 0 1 0 7.2 0a3.6 3.6 0 1 0 -7.2 0M552.83 905.60a3.6 3.6 0 1 0 7.2 0a3.6 3.6 0 1 0 -7.2 0M558.65 907.00a3.6 3.6 0 1 0 7.2 0a3.6 3.6 0 1 0 -7.2 0M564.46 908.30a3.6 3.6 0 1 0 7.2 0a3.6 3.6 0 1 0 -7.2 0M570.28 909.30a3.6 3.6 0 1 0 7.2 0a3.6 3.6 0 1 0 -7.2 0M576.09 910.30a3.6 3.6 0 1 0 7.2 0a3.6 3.6 0 1 0 -7.2 0M581.90 911.00a3.6 3.6 0 1 0 7.2 0a3.6 3.6 0 1 0 -7.2 0M587.72 911.70a3.6 3.6 0 1 0 7.2 0a3.6 3.6 0 1 0 -7.2 0M593.53 912.30a3.6 3.6 0 1 0 7.2 0a3.6 3.6 0 1 0 -7.2 0M599.35 913.00a3.6 3.6 0 1 0 7.2 0a3.6 3.6 0 1 0 -7.2 0M605.16 913.70a3.6 3.6 0 1 0 7.2 0a3.6 3.6 0 1 0 -7.2 0M610.97 914.40a3.6 3.6 0 1 0 7.2 0a3.6 3.6 0 1 0 -7.2 0M616.79 914.70a3.6 3.6 0 1 0 7.2 0a3.6 3.6 0 1 0 -7.2 0M622.60 915.00a3.6 3.6 0 1 0 7.2 0a3.6 3.6 0 1 0 -7.2 0M628.42 915.40a3.6 3.6 0 1 0 7.2 0a3.6 3.6 0 1 0 -7.2 0M634.23 915.70a3.6 3.6 0 1 0 7.2 0a3.6 3.6 0 1 0 -7.2 0M640.04 916.00a3.6 3.6 0 1 0 7.2 0a3.6 3.6 0 1 0 -7.2 0M645.86 916.40a3.6 3.6 0 1 0 7.2 0a3.6 3.6 0 1 0 -7.2 0M651.67 916.70a3.6 3.6 0 1 0 7.2 0a3.6 3.6 0 1 0 -7.2 0M657.49 916.70a3.6 3.6 0 1 0 7.2 0a3.6 3.6 0 1 0 -7.2 0M663.30 917.00a3.6 3.6 0 1 0 7.2 0a3.6 3.6 0 1 0 -7.2 0" fill="none" stroke="#1a1a1a" stroke-width="1.1"/>
<path d="M85.5 621.9 L88.0 626.2 L93.0 626.2 L90.5 630.6 L93.0 635.0 L88.0 635.0 L85.5 639.3 L83.0 635.0 L78.0 635.0 L80.5 630.6 L78.0 626.2 L83.0 626.2Z" fill="#ff0000" stroke="none"/>
<rect x="393.5" y="635.5" width="259.2" height="83.7" fill="#fff" stroke="#262626" stroke-width="0.68"/>
<circle cx="425.9" cy="651.2" r="3" fill="#0072BD"/>
<circle cx="425.9" cy="677.4" r="3.6" fill="none" stroke="#1a1a1a" stroke-width="1.1"/>
<path d="M425.9 695.2 L428.4 699.5 L433.4 699.5 L430.9 703.9 L433.4 708.2 L428.4 708.2 L425.9 712.6 L423.4 708.2 L418.4 708.2 L420.9 703.9 L418.4 699.5 L423.4 699.5Z" fill="#ff0000" stroke="none"/>
<text x="456.30" y="656.90" font-family="Liberation Serif" font-size="21.5" textLength="190.5" lengthAdjust="spacingAndGlyphs">run-up (strob. map)</text>
<text x="456.30" y="683.10" font-family="Liberation Serif" font-size="21.5" textLength="175" lengthAdjust="spacingAndGlyphs">run-up (max. val.)</text>
<text x="456.30" y="709.30" font-family="Liberation Serif" font-size="21.5" textLength="118.4" lengthAdjust="spacingAndGlyphs">initialization</text>
<path d="M85.50 1242.90V1689.90 M230.85 1242.90V1689.90 M376.20 1242.90V1689.90 M521.55 1242.90V1689.90 M666.90 1242.90V1689.90" stroke="#262626" stroke-opacity="0.13" stroke-width="1.1" fill="none"/>
<path d="M85.50 1689.90H666.90 M85.50 1618.95H666.90 M85.50 1548.00H666.90 M85.50 1477.04H666.90 M85.50 1406.09H666.90 M85.50 1335.14H666.90 M85.50 1264.19H666.90" stroke="#262626" stroke-opacity="0.13" stroke-width="1.1" fill="none"/>
<rect x="85.5" y="1242.9" width="581.40" height="447.0" fill="none" stroke="#262626" stroke-width="0.68"/>
<path d="M85.50 1689.90v-6M85.50 1242.90v6 M230.85 1689.90v-6M230.85 1242.90v6 M376.20 1689.90v-6M376.20 1242.90v6 M521.55 1689.90v-6M521.55 1242.90v6 M666.90 1689.90v-6M666.90 1242.90v6 M85.50 1689.90h6M666.90 1689.90h-6 M85.50 1618.95h6M666.90 1618.95h-6 M85.50 1548.00h6M666.90 1548.00h-6 M85.50 1477.04h6M666.90 1477.04h-6 M85.50 1406.09h6M666.90 1406.09h-6 M85.50 1335.14h6M666.90 1335.14h-6 M85.50 1264.19h6M666.90 1264.19h-6" stroke="#262626" stroke-width="0.68" fill="none"/>
<text x="85.50" y="1720.20" font-family="Liberation Serif" font-size="25" text-anchor="middle">537</text>
<text x="230.85" y="1720.20" font-family="Liberation Serif" font-size="25" text-anchor="middle">537.5</text>
<text x="376.20" y="1720.20" font-family="Liberation Serif" font-size="25" text-anchor="middle">538</text>
<text x="521.55" y="1720.20" font-family="Liberation Serif" font-size="25" text-anchor="middle">538.5</text>
<text x="666.90" y="1720.20" font-family="Liberation Serif" font-size="25" text-anchor="middle">539</text>
<text x="76.30" y="1696.70" font-family="Liberation Serif" font-size="25" text-anchor="end">-0.2</text>
<text x="76.30" y="1625.75" font-family="Liberation Serif" font-size="25" text-anchor="end">-0.1</text>
<text x="76.30" y="1554.80" font-family="Liberation Serif" font-size="25" text-anchor="end">0</text>
<text x="76.30" y="1483.84" font-family="Liberation Serif" font-size="25" text-anchor="end">0.1</text>
<text x="76.30" y="1412.89" font-family="Liberation Serif" font-size="25" text-anchor="end">0.2</text>
<text x="76.30" y="1341.94" font-family="Liberation Serif" font-size="25" text-anchor="end">0.3</text>
<text x="76.30" y="1270.99" font-family="Liberation Serif" font-size="25" text-anchor="end">0.4</text>
<text x="376.20" y="1753.50" font-family="Liberation Serif" font-size="28" text-anchor="middle" textLength="123" lengthAdjust="spacingAndGlyphs">Ω in rad/s</text>
<g clip-path="url(#c2)" fill="none">
<path d="M239.57 1301.1v2.2M239.57 1306.4v2.2M239.57 1312.3v2.2M239.57 1318.1v2.2M239.57 1324.0v2.2M239.57 1326.8v2.2M239.57 1334.8v2.2M239.57 1342.8v2.2M239.57 1346.9v2.2M239.57 1354.9v2.2M239.57 1360.8v2.2M239.57 1368.8v8.1M239.57 1379.2v2.2M239.57 1383.7v2.2M239.57 1386.9v2.2M239.57 1390.4v2.2M239.57 1394.7v7.5M239.57 1404.2v2.5M239.57 1407.7v2.2M239.57 1411.4v2.2M239.57 1415.4v2.2M239.57 1419.8v10.3M239.57 1431.2v2.5M239.57 1435.3v4.1M239.57 1441.8v14.0M239.57 1457.2v2.2M239.57 1460.4v2.2M239.57 1463.8v2.2M239.57 1468.5v2.3M239.57 1471.8v14.0M239.57 1486.8v6.2M239.57 1495.2v2.2M239.57 1498.4v2.2M239.57 1502.1v5.9M239.57 1509.2v2.2M239.57 1514.0v14.0M239.57 1529.5v2.2M239.57 1532.7v2.2M239.57 1536.2v5.2M239.57 1542.3v11.1M239.57 1554.8v10.1M239.57 1566.1v2.2M239.57 1569.9v7.2M239.57 1578.8v2.2M239.57 1582.0v12.7M239.57 1595.9v4.0M239.57 1600.9v8.7M239.57 1610.6v4.6M239.57 1616.3v4.1M239.57 1621.4v3.1M239.57 1626.2v2.2M239.57 1630.4v2.2M239.57 1634.9v14.0M239.57 1651.7v2.2M239.57 1654.9v2.2M239.57 1658.9v1.6" stroke="#0072BD" stroke-width="2.1" fill="none"/>
<path d="M245.38 1304.4v2.2M245.38 1312.4v2.2M245.38 1315.2v2.2M245.38 1323.2v2.2M245.38 1328.1v2.2M245.38 1332.3v2.2M245.38 1336.9v2.2M245.38 1344.9v2.2M245.38 1349.6v2.2M245.38 1352.4v2.2M245.38 1357.4v2.2M245.38 1365.4v7.4M245.38 1374.6v4.4M245.38 1381.4v2.2M245.38 1385.4v7.4M245.38 1393.8v2.2M245.38 1398.8v2.2M245.38 1403.5v14.0M245.38 1418.6v6.4M245.38 1427.7v2.2M245.38 1430.9v2.2M245.38 1434.2v2.2M245.38 1438.4v2.2M245.38 1442.2v2.2M245.38 1447.2v4.5M245.38 1453.5v2.2M245.38 1457.5v2.2M245.38 1461.8v12.6M245.38 1475.5v2.2M245.38 1479.4v14.0M245.38 1494.8v2.9M245.38 1499.9v3.3M245.38 1504.3v2.2M245.38 1507.5v2.2M245.38 1511.4v8.7M245.38 1521.1v2.2M245.38 1526.1v2.2M245.38 1530.1v14.0M245.38 1545.1v2.2M245.38 1549.3v3.7M245.38 1555.6v13.8M245.38 1572.2v14.0M245.38 1587.8v14.0M245.38 1602.8v2.4M245.38 1606.5v2.2M245.38 1611.3v5.3M245.38 1619.2v2.2M245.38 1623.5v2.2M245.38 1627.0v6.2M245.38 1635.6v2.2M245.38 1640.6v2.2M245.38 1645.4v2.2M245.38 1649.9v2.2M245.38 1653.6v7.9M245.38 1662.5v2.2M245.38 1666.8v7.8M245.38 1677.0v4.5M245.38 1683.7v0.3" stroke="#0072BD" stroke-width="2.1" fill="none"/>
<path d="M251.20 1306.9v2.2M251.20 1314.9v2.2M251.20 1320.5v2.2M251.20 1328.5v2.2M251.20 1334.4v2.2M251.20 1342.4v2.2M251.20 1348.3v2.2M251.20 1352.8v2.2M251.20 1357.5v2.2M251.20 1363.0v2.2M251.20 1366.4v2.2M251.20 1369.6v3.8M251.20 1374.4v14.0M251.20 1390.4v8.5M251.20 1400.6v4.6M251.20 1406.2v2.2M251.20 1409.9v2.2M251.20 1414.5v2.2M251.20 1418.8v8.5M251.20 1430.2v10.2M251.20 1441.7v12.1M251.20 1455.8v2.2M251.20 1460.6v2.2M251.20 1463.8v9.1M251.20 1474.2v2.2M251.20 1477.5v2.2M251.20 1480.9v8.7M251.20 1492.4v2.2M251.20 1497.4v2.2M251.20 1500.6v5.2M251.20 1507.2v4.6M251.20 1513.0v2.2M251.20 1516.3v6.8M251.20 1525.4v11.0M251.20 1538.6v4.7M251.20 1544.5v2.2M251.20 1548.6v2.2M251.20 1553.1v8.8M251.20 1563.1v2.2M251.20 1567.8v6.2M251.20 1575.1v2.2M251.20 1579.7v2.2M251.20 1583.1v7.6M251.20 1592.7v2.2M251.20 1596.9v7.0M251.20 1605.2v3.9M251.20 1610.9v2.2M251.20 1614.1v2.2M251.20 1617.5v7.1M251.20 1626.8v14.0M251.20 1642.0v7.6M251.20 1650.9v2.2M251.20 1655.5v2.2M251.20 1659.9v2.2M251.20 1664.6v2.7M251.20 1669.5v6.6M251.20 1677.1v4.2" stroke="#0072BD" stroke-width="2.1" fill="none"/>
<path d="M257.01 1312.3v2.2M257.01 1318.1v2.2M257.01 1322.4v2.2M257.01 1325.2v2.2M257.01 1330.3v2.2M257.01 1335.7v2.2M257.01 1341.3v2.2M257.01 1344.1v2.2M257.01 1346.9v2.2M257.01 1351.8v2.2M257.01 1359.8v2.2M257.01 1364.3v4.5M257.01 1371.1v2.2M257.01 1374.8v14.0M257.01 1391.5v2.2M257.01 1395.4v2.3M257.01 1398.7v2.2M257.01 1403.6v4.4M257.01 1410.1v2.2M257.01 1414.6v2.2M257.01 1418.5v3.5M257.01 1423.0v2.2M257.01 1426.2v10.2M257.01 1437.4v2.2M257.01 1440.7v12.5M257.01 1454.3v10.1M257.01 1466.1v2.2M257.01 1469.5v2.2M257.01 1472.7v9.4M257.01 1484.8v2.2M257.01 1488.8v2.2M257.01 1493.0v4.4M257.01 1499.6v2.2M257.01 1502.8v14.0M257.01 1517.8v2.2M257.01 1521.5v2.2M257.01 1525.4v2.2M257.01 1528.7v2.2M257.01 1532.3v9.6M257.01 1543.3v3.8M257.01 1549.6v2.2M257.01 1553.7v10.1M257.01 1565.9v2.2M257.01 1570.8v13.2M257.01 1586.5v3.2M257.01 1591.3v3.3M257.01 1595.6v14.0M257.01 1611.2v14.0M257.01 1627.5v14.0M257.01 1644.0v2.2M257.01 1648.5v2.2M257.01 1653.2v7.5M257.01 1662.2v2.2M257.01 1665.4v2.9M257.01 1670.7v13.0M257.01 1686.3v2.2M257.01 1689.5v2.2M257.01 1694.0v1.0" stroke="#0072BD" stroke-width="2.1" fill="none"/>
<path d="M262.83 1316.2v2.2M262.83 1321.3v2.2M262.83 1326.0v2.2M262.83 1331.5v2.2M262.83 1336.0v2.2M262.83 1340.5v2.2M262.83 1343.3v2.2M262.83 1347.3v2.2M262.83 1351.8v2.2M262.83 1354.6v2.2M262.83 1357.4v2.2M262.83 1361.8v2.2M262.83 1366.6v2.2M262.83 1371.6v7.0M262.83 1381.2v14.0M262.83 1397.5v14.0M262.83 1413.5v6.2M262.83 1422.2v4.6M262.83 1428.4v2.2M262.83 1432.8v3.1M262.83 1437.4v2.2M262.83 1441.9v14.0M262.83 1456.9v4.0M262.83 1463.1v2.2M262.83 1467.2v2.2M262.83 1471.8v2.2M262.83 1476.3v2.2M262.83 1479.7v2.2M262.83 1484.8v3.4M262.83 1490.4v2.2M262.83 1493.7v2.8M262.83 1498.8v5.5M262.83 1506.2v2.2M262.83 1511.1v2.2M262.83 1515.3v2.2M262.83 1518.6v2.2M262.83 1522.7v2.2M262.83 1527.5v14.0M262.83 1542.7v4.9M262.83 1550.2v2.2M262.83 1555.2v14.0M262.83 1571.1v7.0M262.83 1580.6v6.5M262.83 1588.3v3.8M262.83 1593.9v2.2M262.83 1597.1v8.8M262.83 1608.3v2.2M262.83 1612.3v6.5M262.83 1621.5v6.2M262.83 1629.9v2.2M262.83 1634.4v2.2M262.83 1637.9v2.2M262.83 1642.8v14.0M262.83 1658.5v2.2M262.83 1663.1v2.2M262.83 1667.0v14.0M262.83 1682.5v2.2M262.83 1685.9v1.6" stroke="#0072BD" stroke-width="2.1" fill="none"/>
<path d="M268.64 1319.0v2.2M268.64 1323.6v2.2M268.64 1331.6v2.2M268.64 1339.6v2.2M268.64 1342.4v2.2M268.64 1350.4v2.2M268.64 1355.4v2.2M268.64 1363.4v4.1M268.64 1370.3v14.0M268.64 1386.0v6.3M268.64 1393.3v2.2M268.64 1397.8v2.2M268.64 1401.6v3.9M268.64 1406.9v3.5M268.64 1411.5v2.2M268.64 1415.6v13.3M268.64 1431.2v7.0M268.64 1440.8v4.0M268.64 1446.2v7.6M268.64 1456.1v2.2M268.64 1459.3v13.4M268.64 1475.1v7.9M268.64 1484.5v2.2M268.64 1488.6v2.2M268.64 1491.8v2.2M268.64 1496.4v2.7M268.64 1500.9v3.2M268.64 1506.7v5.3M268.64 1514.8v4.5M268.64 1520.7v6.6M268.64 1529.7v3.2M268.64 1534.5v14.0M268.64 1550.4v2.8M268.64 1555.7v8.2M268.64 1564.9v2.2M268.64 1569.6v2.2M268.64 1572.8v9.3M268.64 1584.3v2.2M268.64 1589.3v14.0M268.64 1604.3v2.2M268.64 1608.1v9.6M268.64 1620.4v2.2M268.64 1625.2v2.2M268.64 1629.4v2.2M268.64 1632.6v2.2M268.64 1635.8v2.2M268.64 1640.1v2.2M268.64 1643.4v7.8M268.64 1654.0v14.0M268.64 1669.7v0.3" stroke="#0072BD" stroke-width="2.1" fill="none"/>
<path d="M274.45 1321.6v2.2M274.45 1327.6v2.2M274.45 1331.9v2.2M274.45 1339.9v2.2M274.45 1347.9v2.2M274.45 1353.4v2.2M274.45 1356.2v2.2M274.45 1361.6v2.2M274.45 1364.4v11.0M274.45 1377.3v14.0M274.45 1393.3v3.5M274.45 1399.6v2.2M274.45 1404.5v2.2M274.45 1407.8v8.2M274.45 1417.0v2.2M274.45 1421.6v2.2M274.45 1426.3v7.7M274.45 1436.0v2.2M274.45 1439.8v2.2M274.45 1444.8v2.2M274.45 1449.0v3.3M274.45 1453.6v2.2M274.45 1458.2v2.2M274.45 1462.9v2.2M274.45 1467.3v9.9M274.45 1478.5v2.2M274.45 1483.3v2.3M274.45 1488.3v14.0M274.45 1504.6v10.0M274.45 1516.6v2.2M274.45 1520.8v14.0M274.45 1535.8v2.2M274.45 1539.0v2.2M274.45 1543.8v9.1M274.45 1554.2v2.2M274.45 1558.5v4.8M274.45 1565.5v7.4M274.45 1574.3v14.0M274.45 1591.0v2.2M274.45 1594.9v11.6M274.45 1608.8v13.9M274.45 1624.3v2.2M274.45 1628.3v9.7M274.45 1639.0v2.2M274.45 1644.0v9.4M274.45 1654.5v3.3M274.45 1659.1v2.2M274.45 1662.3v2.2M274.45 1667.0v0.2" stroke="#0072BD" stroke-width="2.1" fill="none"/>
<path d="M280.27 1324.8v2.2M280.27 1329.7v2.2M280.27 1335.2v2.2M280.27 1341.1v2.2M280.27 1349.1v2.2M280.27 1351.9v2.2M280.27 1356.1v2.2M280.27 1364.1v2.9M280.27 1368.0v2.2M280.27 1372.0v2.2M280.27 1375.4v2.2M280.27 1378.8v2.2M280.27 1383.1v2.2M280.27 1387.7v5.3M280.27 1395.6v2.2M280.27 1400.5v2.2M280.27 1404.9v2.2M280.27 1408.3v12.1M280.27 1423.2v2.2M280.27 1426.5v5.7M280.27 1433.7v2.2M280.27 1437.6v2.2M280.27 1441.4v10.0M280.27 1453.4v14.0M280.27 1468.9v2.2M280.27 1474.0v6.1M280.27 1482.9v5.6M280.27 1489.8v2.2M280.27 1493.0v6.9M280.27 1501.9v2.2M280.27 1506.3v14.0M280.27 1522.4v13.9M280.27 1538.5v6.5M280.27 1546.3v2.2M280.27 1549.8v2.2M280.27 1553.0v5.6M280.27 1559.8v2.2M280.27 1564.5v8.1M280.27 1575.3v2.2M280.27 1579.7v2.2M280.27 1582.9v3.9M280.27 1589.6v5.9M280.27 1596.5v14.0M280.27 1612.5v2.2M280.27 1615.7v2.2M280.27 1620.4v14.0M280.27 1635.7v2.2M280.27 1639.7v14.0M280.27 1655.3v2.2M280.27 1660.0v2.0" stroke="#0072BD" stroke-width="2.1" fill="none"/>
<path d="M286.08 1328.8v2.2M286.08 1333.3v2.2M286.08 1336.1v2.2M286.08 1341.5v2.2M286.08 1347.5v2.2M286.08 1352.7v2.2M286.08 1357.0v2.2M286.08 1362.1v14.0M286.08 1377.4v2.2M286.08 1380.6v11.3M286.08 1393.0v6.0M286.08 1400.9v5.5M286.08 1407.4v3.8M286.08 1412.5v2.2M286.08 1415.9v2.2M286.08 1419.4v4.5M286.08 1425.5v10.1M286.08 1436.8v12.6M286.08 1451.1v14.0M286.08 1467.1v2.2M286.08 1470.3v2.2M286.08 1474.6v2.6M286.08 1479.1v2.2M286.08 1482.5v2.6M286.08 1486.5v2.2M286.08 1490.9v2.2M286.08 1494.1v13.2M286.08 1509.4v6.9M286.08 1517.3v2.9M286.08 1521.1v2.2M286.08 1525.6v2.2M286.08 1530.0v7.6M286.08 1538.5v2.2M286.08 1541.7v3.6M286.08 1546.4v8.1M286.08 1557.5v2.2M286.08 1561.8v3.6M286.08 1567.6v2.2M286.08 1570.8v14.0M286.08 1587.5v4.9M286.08 1594.2v7.8M286.08 1603.7v2.2M286.08 1607.3v2.2M286.08 1612.0v2.2M286.08 1615.9v8.1M286.08 1626.3v14.0M286.08 1641.3v2.2M286.08 1645.9v2.7M286.08 1649.6v8.8" stroke="#0072BD" stroke-width="2.1" fill="none"/>
<path d="M291.90 1334.4v2.2M291.90 1338.2v2.2M291.90 1341.8v2.2M291.90 1345.7v2.2M291.90 1348.5v9.1M291.90 1360.2v2.2M291.90 1365.0v2.2M291.90 1368.2v7.8M291.90 1377.0v3.1M291.90 1382.6v2.2M291.90 1386.3v2.2M291.90 1390.9v2.2M291.90 1395.1v2.2M291.90 1399.4v2.2M291.90 1403.5v5.1M291.90 1410.4v3.3M291.90 1415.5v2.2M291.90 1419.0v4.9M291.90 1425.5v2.2M291.90 1429.6v10.3M291.90 1442.1v2.2M291.90 1446.2v14.0M291.90 1462.0v2.4M291.90 1466.0v2.2M291.90 1470.7v9.2M291.90 1481.1v3.1M291.90 1485.5v9.8M291.90 1497.7v2.2M291.90 1502.3v7.9M291.90 1512.3v2.2M291.90 1515.5v2.2M291.90 1520.5v7.8M291.90 1531.1v2.2M291.90 1534.5v2.2M291.90 1539.1v2.2M291.90 1543.1v2.2M291.90 1547.1v2.2M291.90 1551.9v2.2M291.90 1556.7v3.8M291.90 1562.0v2.2M291.90 1565.3v2.3M291.90 1570.3v2.2M291.90 1573.9v2.2M291.90 1578.8v2.2M291.90 1583.4v2.2M291.90 1588.2v3.5M291.90 1593.8v2.2M291.90 1597.5v2.2M291.90 1601.3v2.2M291.90 1604.9v6.9M291.90 1612.9v7.9M291.90 1622.8v2.2M291.90 1627.6v2.2M291.90 1631.0v6.0M291.90 1638.4v2.8M291.90 1643.2v5.0M291.90 1649.2v2.6M291.90 1653.5v0.5" stroke="#0072BD" stroke-width="2.1" fill="none"/>
<path d="M297.71 1339.2v2.2M297.71 1342.8v2.2M297.71 1346.4v2.2M297.71 1350.2v2.2M297.71 1353.0v2.2M297.71 1357.6v10.5M297.71 1369.9v2.2M297.71 1373.1v2.2M297.71 1377.4v2.2M297.71 1382.1v3.4M297.71 1388.0v2.2M297.71 1392.5v14.0M297.71 1407.5v2.2M297.71 1410.7v2.2M297.71 1414.4v5.0M297.71 1420.7v2.2M297.71 1424.8v2.2M297.71 1428.1v4.8M297.71 1434.3v2.2M297.71 1437.7v2.2M297.71 1441.4v6.7M297.71 1450.0v2.2M297.71 1455.0v2.2M297.71 1459.3v2.8M297.71 1463.6v2.2M297.71 1467.2v14.0M297.71 1482.7v2.2M297.71 1487.1v4.1M297.71 1492.8v10.9M297.71 1505.4v2.2M297.71 1509.2v2.2M297.71 1512.4v14.0M297.71 1528.5v4.8M297.71 1535.1v2.2M297.71 1539.4v2.2M297.71 1543.7v6.6M297.71 1551.5v2.6M297.71 1556.0v4.6M297.71 1562.7v2.6M297.71 1567.5v6.7M297.71 1576.6v2.2M297.71 1580.4v2.2M297.71 1584.6v2.2M297.71 1588.3v14.0M297.71 1604.8v2.2M297.71 1609.0v14.0M297.71 1625.9v2.2M297.71 1629.3v2.2M297.71 1632.7v2.2M297.71 1636.7v14.0M297.71 1652.4v0.2" stroke="#0072BD" stroke-width="2.1" fill="none"/>
<path d="M303.52 1344.4v2.2M303.52 1349.0v2.2M303.52 1355.4v2.2M303.52 1359.1v2.9M303.52 1363.0v6.8M303.52 1370.8v2.4M303.52 1374.6v2.2M303.52 1379.5v2.2M303.52 1384.5v11.1M303.52 1397.0v2.2M303.52 1401.6v2.2M303.52 1405.1v14.0M303.52 1421.0v13.9M303.52 1435.9v4.4M303.52 1442.6v2.2M303.52 1447.6v9.6M303.52 1459.7v8.3M303.52 1469.6v2.2M303.52 1474.6v5.0M303.52 1481.4v9.8M303.52 1493.5v2.2M303.52 1497.2v3.0M303.52 1502.5v3.6M303.52 1508.0v14.0M303.52 1523.7v10.8M303.52 1535.7v2.2M303.52 1539.4v2.2M303.52 1542.6v7.1M303.52 1551.4v6.0M303.52 1558.6v2.2M303.52 1563.3v12.4M303.52 1577.6v6.9M303.52 1585.5v2.2M303.52 1589.1v2.2M303.52 1593.7v11.8M303.52 1607.2v14.0M303.52 1622.3v3.7M303.52 1627.8v2.2M303.52 1632.6v2.2M303.52 1635.9v2.2M303.52 1639.9v4.1M303.52 1645.8v2.2M303.52 1649.0v1.1" stroke="#0072BD" stroke-width="2.1" fill="none"/>
<path d="M309.34 1349.7v2.2M309.34 1352.5v2.2M309.34 1356.6v2.2M309.34 1360.2v2.2M309.34 1363.9v2.2M309.34 1367.3v7.3M309.34 1376.1v2.2M309.34 1380.4v2.2M309.34 1384.5v2.2M309.34 1387.7v2.2M309.34 1392.5v2.2M309.34 1395.7v2.2M309.34 1399.7v2.5M309.34 1403.9v10.9M309.34 1417.1v2.2M309.34 1420.3v2.2M309.34 1424.7v2.2M309.34 1429.8v2.2M309.34 1434.3v14.0M309.34 1449.9v2.2M309.34 1454.9v4.1M309.34 1460.6v2.2M309.34 1465.3v2.2M309.34 1469.1v2.2M309.34 1472.9v5.7M309.34 1480.4v2.2M309.34 1484.5v2.2M309.34 1487.7v14.0M309.34 1504.5v6.9M309.34 1513.5v2.2M309.34 1517.4v2.5M309.34 1522.2v2.2M309.34 1525.6v7.5M309.34 1535.2v4.1M309.34 1540.7v2.9M309.34 1544.6v2.4M309.34 1549.4v5.5M309.34 1557.3v9.2M309.34 1567.5v2.2M309.34 1570.7v2.2M309.34 1574.5v3.5M309.34 1579.8v2.2M309.34 1583.8v14.0M309.34 1599.4v2.2M309.34 1604.4v7.3M309.34 1614.2v9.9M309.34 1625.4v2.2M309.34 1629.2v2.2M309.34 1632.6v10.1M309.34 1644.0v3.0" stroke="#0072BD" stroke-width="2.1" fill="none"/>
<path d="M315.15 1354.9v2.2M315.15 1359.5v2.2M315.15 1365.9v2.2M315.15 1369.8v4.1M315.15 1376.6v6.2M315.15 1385.0v14.0M315.15 1400.0v8.8M315.15 1409.9v2.2M315.15 1413.8v2.2M315.15 1417.2v2.2M315.15 1420.5v2.2M315.15 1425.2v2.2M315.15 1428.7v2.2M315.15 1431.9v2.2M315.15 1435.1v2.2M315.15 1438.9v13.9M315.15 1453.8v8.3M315.15 1464.1v2.2M315.15 1467.6v2.2M315.15 1471.5v6.2M315.15 1479.0v7.2M315.15 1487.2v2.2M315.15 1491.2v2.2M315.15 1495.2v8.9M315.15 1505.6v14.0M315.15 1520.9v2.2M315.15 1525.8v2.2M315.15 1530.7v11.8M315.15 1544.6v14.0M315.15 1560.7v2.2M315.15 1564.8v13.9M315.15 1579.8v6.7M315.15 1587.7v8.8M315.15 1597.4v2.2M315.15 1601.4v8.1M315.15 1610.5v14.0M315.15 1626.1v3.3M315.15 1631.6v2.2M315.15 1635.9v5.9M315.15 1643.7v0.8" stroke="#0072BD" stroke-width="2.1" fill="none"/>
<path d="M320.97 1361.1v2.2M320.97 1365.9v2.2M320.97 1370.4v2.2M320.97 1376.8v2.2M320.97 1381.3v2.2M320.97 1386.0v2.2M320.97 1389.5v2.2M320.97 1393.5v3.2M320.97 1399.1v2.2M320.97 1403.9v2.2M320.97 1407.1v2.2M320.97 1410.8v2.2M320.97 1415.2v13.2M320.97 1429.9v2.2M320.97 1433.4v3.5M320.97 1437.9v3.3M320.97 1442.3v2.2M320.97 1446.0v14.0M320.97 1461.2v2.2M320.97 1464.4v2.2M320.97 1468.6v2.2M320.97 1472.1v2.2M320.97 1475.9v2.2M320.97 1480.7v13.2M320.97 1494.9v2.2M320.97 1499.6v5.6M320.97 1507.6v5.4M320.97 1514.4v2.2M320.97 1518.8v10.6M320.97 1531.5v14.0M320.97 1547.9v2.8M320.97 1553.4v2.2M320.97 1557.1v2.2M320.97 1562.0v7.6M320.97 1572.3v2.2M320.97 1576.2v10.0M320.97 1587.6v6.8M320.97 1596.8v8.1M320.97 1607.5v2.2M320.97 1611.5v14.0M320.97 1628.4v11.0M320.97 1641.5v0.1" stroke="#0072BD" stroke-width="2.1" fill="none"/>
<path d="M326.78 1367.1v2.2M326.78 1369.9v2.2M326.78 1373.1v2.2M326.78 1377.0v2.2M326.78 1380.8v2.2M326.78 1385.5v2.2M326.78 1389.0v3.5M326.78 1394.7v2.7M326.78 1399.4v2.2M326.78 1402.8v2.2M326.78 1406.0v3.8M326.78 1412.4v14.0M326.78 1428.9v6.1M326.78 1436.0v2.2M326.78 1440.2v5.5M326.78 1447.2v3.6M326.78 1451.9v2.2M326.78 1456.5v2.2M326.78 1460.7v2.2M326.78 1465.8v2.2M326.78 1469.0v2.2M326.78 1473.3v14.0M326.78 1489.8v2.2M326.78 1493.3v3.3M326.78 1498.0v2.2M326.78 1502.2v5.5M326.78 1510.4v14.0M326.78 1526.4v2.2M326.78 1529.6v5.6M326.78 1537.5v2.2M326.78 1541.8v7.0M326.78 1550.7v2.2M326.78 1555.6v2.7M326.78 1561.0v10.9M326.78 1572.9v11.3M326.78 1585.4v2.2M326.78 1589.8v6.5M326.78 1597.8v14.0M326.78 1614.2v2.2M326.78 1617.6v3.4M326.78 1622.5v2.2M326.78 1625.8v10.4M326.78 1639.0v0.5" stroke="#0072BD" stroke-width="2.1" fill="none"/>
<path d="M332.60 1373.2v2.2M332.60 1376.7v2.2M332.60 1380.5v2.2M332.60 1385.2v2.2M332.60 1388.0v2.2M332.60 1391.2v8.4M332.60 1401.6v11.3M332.60 1414.7v12.0M332.60 1429.3v14.0M332.60 1445.7v2.2M332.60 1450.5v2.2M332.60 1453.7v2.2M332.60 1458.3v12.5M332.60 1473.7v12.6M332.60 1488.9v8.1M332.60 1499.2v2.2M332.60 1503.3v2.2M332.60 1507.4v13.7M332.60 1523.8v8.4M332.60 1534.3v10.5M332.60 1547.3v2.2M332.60 1550.8v2.2M332.60 1554.7v2.2M332.60 1558.0v3.0M332.60 1563.6v2.2M332.60 1568.2v7.7M332.60 1576.9v7.6M332.60 1587.1v4.2M332.60 1592.3v2.2M332.60 1596.9v2.2M332.60 1601.5v8.4M332.60 1610.9v2.4M332.60 1614.7v2.2M332.60 1618.1v2.3M332.60 1623.0v4.6M332.60 1629.1v2.2M332.60 1634.1v3.3" stroke="#0072BD" stroke-width="2.1" fill="none"/>
<path d="M338.41 1379.1v2.2M338.41 1385.5v2.2M338.41 1391.9v2.2M338.41 1394.7v10.2M338.41 1406.0v14.0M338.41 1421.8v12.8M338.41 1437.2v2.2M338.41 1441.5v2.2M338.41 1446.4v2.6M338.41 1450.8v4.1M338.41 1456.7v2.2M338.41 1461.6v2.2M338.41 1465.5v2.2M338.41 1468.7v2.2M338.41 1473.0v2.2M338.41 1476.9v2.2M338.41 1480.1v2.2M338.41 1484.7v12.4M338.41 1498.3v2.2M338.41 1502.2v2.2M338.41 1506.9v2.2M338.41 1510.1v2.2M338.41 1513.5v3.7M338.41 1519.2v2.2M338.41 1524.1v3.2M338.41 1528.3v5.1M338.41 1535.4v14.0M338.41 1551.0v3.8M338.41 1555.9v2.2M338.41 1560.1v3.9M338.41 1565.3v4.8M338.41 1571.7v2.2M338.41 1575.8v2.2M338.41 1579.1v10.7M338.41 1592.4v10.6M338.41 1604.7v5.3M338.41 1611.0v7.7M338.41 1620.9v13.6" stroke="#0072BD" stroke-width="2.1" fill="none"/>
<path d="M344.22 1386.0v2.2M344.22 1389.3v2.2M344.22 1393.6v2.2M344.22 1400.0v4.7M344.22 1405.6v2.2M344.22 1409.9v4.1M344.22 1415.3v2.2M344.22 1419.9v8.8M344.22 1430.2v2.2M344.22 1434.4v3.5M344.22 1439.8v14.0M344.22 1456.0v7.1M344.22 1464.1v2.2M344.22 1468.9v4.1M344.22 1475.6v2.2M344.22 1480.1v2.2M344.22 1484.5v9.0M344.22 1495.0v2.2M344.22 1499.1v2.2M344.22 1504.2v14.0M344.22 1519.2v2.2M344.22 1522.4v3.4M344.22 1528.2v2.2M344.22 1532.8v9.9M344.22 1544.5v10.3M344.22 1556.0v2.2M344.22 1559.4v10.1M344.22 1571.7v9.2M344.22 1583.1v5.4M344.22 1590.4v2.2M344.22 1593.8v2.9M344.22 1597.7v9.2M344.22 1608.8v9.2M344.22 1619.0v2.2M344.22 1622.3v2.2M344.22 1626.3v3.7" stroke="#0072BD" stroke-width="2.1" fill="none"/>
<path d="M350.04 1392.2v2.2M350.04 1398.6v2.2M350.04 1402.9v2.2M350.04 1406.5v2.2M350.04 1411.5v2.8M350.04 1415.7v3.9M350.04 1422.3v12.6M350.04 1436.4v14.0M350.04 1451.7v2.2M350.04 1455.4v2.2M350.04 1458.8v4.1M350.04 1464.4v10.4M350.04 1477.1v14.0M350.04 1493.5v4.5M350.04 1499.4v14.0M350.04 1515.5v14.0M350.04 1532.1v8.4M350.04 1541.8v12.6M350.04 1555.8v7.7M350.04 1564.6v3.9M350.04 1571.3v8.7M350.04 1581.0v2.2M350.04 1584.3v2.2M350.04 1588.9v6.8M350.04 1598.3v2.2M350.04 1602.9v14.0M350.04 1618.3v8.9" stroke="#0072BD" stroke-width="2.1" fill="none"/>
<path d="M355.85 1398.6v2.2M355.85 1403.2v2.2M355.85 1409.6v2.2M355.85 1414.3v13.2M355.85 1429.9v2.2M355.85 1434.2v14.0M355.85 1449.2v2.2M355.85 1453.6v8.1M355.85 1463.3v2.2M355.85 1466.5v2.2M355.85 1470.3v2.2M355.85 1474.2v2.2M355.85 1477.8v2.2M355.85 1481.8v13.7M355.85 1497.7v14.0M355.85 1514.4v2.2M355.85 1517.6v2.2M355.85 1522.1v2.2M355.85 1527.0v6.3M355.85 1535.9v2.2M355.85 1540.8v2.2M355.85 1544.0v2.2M355.85 1548.5v2.2M355.85 1553.4v6.1M355.85 1560.5v14.0M355.85 1575.5v2.2M355.85 1580.6v14.0M355.85 1597.1v2.2M355.85 1600.3v4.8M355.85 1606.8v5.0M355.85 1614.3v9.9" stroke="#0072BD" stroke-width="2.1" fill="none"/>
<path d="M361.66 1402.8v2.2M361.66 1409.2v2.2M361.66 1415.6v2.2M361.66 1419.8v14.0M361.66 1435.7v14.0M361.66 1450.8v2.8M361.66 1455.0v3.8M361.66 1459.8v2.2M361.66 1463.8v2.2M361.66 1468.2v2.2M361.66 1472.8v9.1M361.66 1483.1v6.3M361.66 1491.8v3.0M361.66 1497.3v2.2M361.66 1502.3v2.2M361.66 1505.5v2.2M361.66 1510.0v10.6M361.66 1522.4v14.0M361.66 1538.6v6.2M361.66 1546.6v2.2M361.66 1550.7v3.9M361.66 1556.2v5.8M361.66 1563.5v3.9M361.66 1568.9v2.2M361.66 1572.1v8.9M361.66 1582.6v6.3M361.66 1590.4v2.2M361.66 1595.2v2.2M361.66 1598.8v2.7M361.66 1602.5v2.2M361.66 1607.2v2.2M361.66 1611.7v2.2M361.66 1615.6v2.2M361.66 1620.2v2.2" stroke="#0072BD" stroke-width="2.1" fill="none"/>
<path d="M367.48 1406.2v2.2M367.48 1409.0v2.2M367.48 1413.8v2.2M367.48 1417.7v2.2M367.48 1420.5v9.2M367.48 1430.7v2.2M367.48 1435.1v14.0M367.48 1451.8v2.2M367.48 1456.0v2.2M367.48 1460.9v2.2M367.48 1464.1v2.9M367.48 1469.0v4.1M367.48 1475.6v8.9M367.48 1485.9v2.2M367.48 1490.9v6.5M367.48 1498.4v6.8M367.48 1507.3v2.2M367.48 1510.5v2.2M367.48 1514.1v14.0M367.48 1529.9v6.2M367.48 1537.4v2.2M367.48 1540.7v4.0M367.48 1547.4v2.2M367.48 1550.6v2.8M367.48 1555.0v2.2M367.48 1558.8v3.5M367.48 1564.7v2.2M367.48 1568.6v2.2M367.48 1572.0v2.2M367.48 1576.1v3.4M367.48 1580.8v14.0M367.48 1596.3v4.3M367.48 1602.4v2.2M367.48 1606.1v5.5M367.48 1612.6v2.2M367.48 1616.4v2.2M367.48 1619.8v1.5" stroke="#0072BD" stroke-width="2.1" fill="none"/>
<path d="M373.29 1412.3V1613.4" stroke="#0072BD" stroke-width="2.1" fill="none"/>
<path d="M379.11 1428.6V1600.9" stroke="#0072BD" stroke-width="2.1" fill="none"/>
<path d="M384.92 1437.2V1594.5" stroke="#0072BD" stroke-width="2.1" fill="none"/>
<path d="M390.73 1448.6V1590.7" stroke="#0072BD" stroke-width="2.1" fill="none"/>
<path d="M396.55 1460.5V1583.4" stroke="#0072BD" stroke-width="2.1" fill="none"/>
<path d="M402.36 1473.3V1573.1" stroke="#0072BD" stroke-width="2.1" fill="none"/>
<path d="M408.18 1490.3V1558.5" stroke="#0072BD" stroke-width="2.1" fill="none"/>
<rect x="87.4" y="1536.3" width="2.0" height="2.0" fill="#0072BD"/>
<rect x="93.2" y="1536.0" width="2.0" height="2.0" fill="#0072BD"/>
<rect x="99.0" y="1535.8" width="2.0" height="2.0" fill="#0072BD"/>
<rect x="104.8" y="1535.5" width="2.0" height="2.0" fill="#0072BD"/>
<rect x="110.7" y="1535.3" width="2.0" height="2.0" fill="#0072BD"/>
<rect x="116.5" y="1534.8" width="2.0" height="2.0" fill="#0072BD"/>
<rect x="122.3" y="1534.3" width="2.0" height="2.0" fill="#0072BD"/>
<rect x="128.1" y="1533.8" width="2.0" height="2.0" fill="#0072BD"/>
<rect x="133.9" y="1533.3" width="2.0" height="2.0" fill="#0072BD"/>
<rect x="139.7" y="1532.6" width="2.0" height="2.0" fill="#0072BD"/>
<rect x="145.5" y="1532.1" width="2.0" height="2.0" fill="#0072BD"/>
<rect x="151.4" y="1531.3" width="2.0" height="2.0" fill="#0072BD"/>
<rect x="157.2" y="1530.6" width="2.0" height="2.0" fill="#0072BD"/>
<rect x="163.0" y="1529.8" width="2.0" height="2.0" fill="#0072BD"/>
<rect x="168.8" y="1528.8" width="2.0" height="2.0" fill="#0072BD"/>
<rect x="174.6" y="1527.9" width="2.0" height="2.0" fill="#0072BD"/>
<rect x="180.4" y="1526.6" width="2.0" height="2.0" fill="#0072BD"/>
<rect x="186.2" y="1525.4" width="2.0" height="2.0" fill="#0072BD"/>
<rect x="192.1" y="1524.1" width="2.0" height="2.0" fill="#0072BD"/>
<rect x="197.9" y="1522.4" width="2.0" height="2.0" fill="#0072BD"/>
<rect x="203.7" y="1520.4" width="2.0" height="2.0" fill="#0072BD"/>
<rect x="209.5" y="1517.9" width="2.0" height="2.0" fill="#0072BD"/>
<rect x="215.3" y="1514.2" width="2.0" height="2.0" fill="#0072BD"/>
<rect x="221.1" y="1432.8" width="2.0" height="2.0" fill="#0072BD"/>
<rect x="226.9" y="1436.4" width="2.0" height="2.0" fill="#0072BD"/>
<rect x="232.8" y="1440.7" width="2.0" height="2.0" fill="#0072BD"/>
<rect x="238.6" y="1298.6" width="2.0" height="2.0" fill="#0072BD"/>
<rect x="244.4" y="1301.9" width="2.0" height="2.0" fill="#0072BD"/>
<rect x="250.2" y="1304.4" width="2.0" height="2.0" fill="#0072BD"/>
<rect x="256.0" y="1309.8" width="2.0" height="2.0" fill="#0072BD"/>
<rect x="261.8" y="1313.7" width="2.0" height="2.0" fill="#0072BD"/>
<rect x="267.6" y="1316.5" width="2.0" height="2.0" fill="#0072BD"/>
<rect x="273.5" y="1319.1" width="2.0" height="2.0" fill="#0072BD"/>
<rect x="279.3" y="1322.3" width="2.0" height="2.0" fill="#0072BD"/>
<rect x="285.1" y="1326.3" width="2.0" height="2.0" fill="#0072BD"/>
<rect x="290.9" y="1331.9" width="2.0" height="2.0" fill="#0072BD"/>
<rect x="296.7" y="1336.7" width="2.0" height="2.0" fill="#0072BD"/>
<rect x="302.5" y="1341.9" width="2.0" height="2.0" fill="#0072BD"/>
<rect x="308.3" y="1347.2" width="2.0" height="2.0" fill="#0072BD"/>
<rect x="314.2" y="1352.4" width="2.0" height="2.0" fill="#0072BD"/>
<rect x="320.0" y="1358.6" width="2.0" height="2.0" fill="#0072BD"/>
<rect x="325.8" y="1364.6" width="2.0" height="2.0" fill="#0072BD"/>
<rect x="331.6" y="1370.7" width="2.0" height="2.0" fill="#0072BD"/>
<rect x="337.4" y="1376.6" width="2.0" height="2.0" fill="#0072BD"/>
<rect x="343.2" y="1383.5" width="2.0" height="2.0" fill="#0072BD"/>
<rect x="349.0" y="1389.7" width="2.0" height="2.0" fill="#0072BD"/>
<rect x="354.9" y="1396.1" width="2.0" height="2.0" fill="#0072BD"/>
<rect x="360.7" y="1400.3" width="2.0" height="2.0" fill="#0072BD"/>
<rect x="366.5" y="1403.7" width="2.0" height="2.0" fill="#0072BD"/>
<rect x="372.3" y="1409.8" width="2.0" height="2.0" fill="#0072BD"/>
<rect x="378.1" y="1426.1" width="2.0" height="2.0" fill="#0072BD"/>
<rect x="383.9" y="1434.7" width="2.0" height="2.0" fill="#0072BD"/>
<rect x="389.7" y="1446.1" width="2.0" height="2.0" fill="#0072BD"/>
<rect x="395.5" y="1458.0" width="2.0" height="2.0" fill="#0072BD"/>
<rect x="401.4" y="1470.8" width="2.0" height="2.0" fill="#0072BD"/>
<rect x="407.2" y="1487.8" width="2.0" height="2.0" fill="#0072BD"/>
<rect x="413.0" y="1522.8" width="2.0" height="2.0" fill="#0072BD"/>
<rect x="418.8" y="1522.8" width="2.0" height="2.0" fill="#0072BD"/>
<rect x="424.6" y="1521.8" width="2.0" height="2.0" fill="#0072BD"/>
<rect x="430.4" y="1520.6" width="2.0" height="2.0" fill="#0072BD"/>
<rect x="436.2" y="1519.1" width="2.0" height="2.0" fill="#0072BD"/>
<rect x="442.1" y="1517.4" width="2.0" height="2.0" fill="#0072BD"/>
<rect x="447.9" y="1514.9" width="2.0" height="2.0" fill="#0072BD"/>
<rect x="453.7" y="1511.6" width="2.0" height="2.0" fill="#0072BD"/>
<rect x="459.5" y="1453.8" width="2.0" height="2.0" fill="#0072BD"/>
<rect x="465.3" y="1457.6" width="2.0" height="2.0" fill="#0072BD"/>
<rect x="471.1" y="1462.3" width="2.0" height="2.0" fill="#0072BD"/>
<rect x="476.9" y="1467.5" width="2.0" height="2.0" fill="#0072BD"/>
<rect x="482.8" y="1473.4" width="2.0" height="2.0" fill="#0072BD"/>
<rect x="488.6" y="1479.5" width="2.0" height="2.0" fill="#0072BD"/>
<rect x="494.4" y="1485.6" width="2.0" height="2.0" fill="#0072BD"/>
<rect x="500.2" y="1491.7" width="2.0" height="2.0" fill="#0072BD"/>
<rect x="506.0" y="1497.3" width="2.0" height="2.0" fill="#0072BD"/>
<rect x="511.8" y="1502.7" width="2.0" height="2.0" fill="#0072BD"/>
<rect x="517.6" y="1507.3" width="2.0" height="2.0" fill="#0072BD"/>
<rect x="523.5" y="1511.6" width="2.0" height="2.0" fill="#0072BD"/>
<rect x="529.3" y="1515.1" width="2.0" height="2.0" fill="#0072BD"/>
<rect x="535.1" y="1518.0" width="2.0" height="2.0" fill="#0072BD"/>
<rect x="540.9" y="1520.9" width="2.0" height="2.0" fill="#0072BD"/>
<rect x="546.7" y="1522.8" width="2.0" height="2.0" fill="#0072BD"/>
<rect x="552.5" y="1524.8" width="2.0" height="2.0" fill="#0072BD"/>
<rect x="558.3" y="1526.3" width="2.0" height="2.0" fill="#0072BD"/>
<rect x="564.2" y="1527.5" width="2.0" height="2.0" fill="#0072BD"/>
<rect x="570.0" y="1528.6" width="2.0" height="2.0" fill="#0072BD"/>
<rect x="575.8" y="1529.7" width="2.0" height="2.0" fill="#0072BD"/>
<rect x="581.6" y="1530.5" width="2.0" height="2.0" fill="#0072BD"/>
<rect x="587.4" y="1531.4" width="2.0" height="2.0" fill="#0072BD"/>
<rect x="593.2" y="1532.3" width="2.0" height="2.0" fill="#0072BD"/>
<rect x="599.0" y="1532.9" width="2.0" height="2.0" fill="#0072BD"/>
<rect x="604.9" y="1533.5" width="2.0" height="2.0" fill="#0072BD"/>
<rect x="610.7" y="1533.9" width="2.0" height="2.0" fill="#0072BD"/>
<rect x="616.5" y="1534.3" width="2.0" height="2.0" fill="#0072BD"/>
<rect x="622.3" y="1534.8" width="2.0" height="2.0" fill="#0072BD"/>
<rect x="628.1" y="1535.2" width="2.0" height="2.0" fill="#0072BD"/>
<rect x="633.9" y="1535.6" width="2.0" height="2.0" fill="#0072BD"/>
<rect x="639.7" y="1535.9" width="2.0" height="2.0" fill="#0072BD"/>
<rect x="645.6" y="1536.5" width="2.0" height="2.0" fill="#0072BD"/>
<rect x="651.4" y="1536.9" width="2.0" height="2.0" fill="#0072BD"/>
<rect x="657.2" y="1537.3" width="2.0" height="2.0" fill="#0072BD"/>
<rect x="663.0" y="1537.5" width="2.0" height="2.0" fill="#0072BD"/>
</g>
<path d="M84.81 1537.30a3.6 3.6 0 1 0 7.2 0a3.6 3.6 0 1 0 -7.2 0M90.62 1537.00a3.6 3.6 0 1 0 7.2 0a3.6 3.6 0 1 0 -7.2 0M96.43 1536.80a3.6 3.6 0 1 0 7.2 0a3.6 3.6 0 1 0 -7.2 0M102.25 1536.50a3.6 3.6 0 1 0 7.2 0a3.6 3.6 0 1 0 -7.2 0M108.06 1536.30a3.6 3.6 0 1 0 7.2 0a3.6 3.6 0 1 0 -7.2 0M113.88 1535.80a3.6 3.6 0 1 0 7.2 0a3.6 3.6 0 1 0 -7.2 0M119.69 1535.30a3.6 3.6 0 1 0 7.2 0a3.6 3.6 0 1 0 -7.2 0M125.50 1534.80a3.6 3.6 0 1 0 7.2 0a3.6 3.6 0 1 0 -7.2 0M131.32 1534.30a3.6 3.6 0 1 0 7.2 0a3.6 3.6 0 1 0 -7.2 0M137.13 1533.60a3.6 3.6 0 1 0 7.2 0a3.6 3.6 0 1 0 -7.2 0M142.95 1533.10a3.6 3.6 0 1 0 7.2 0a3.6 3.6 0 1 0 -7.2 0M148.76 1532.30a3.6 3.6 0 1 0 7.2 0a3.6 3.6 0 1 0 -7.2 0M154.58 1531.60a3.6 3.6 0 1 0 7.2 0a3.6 3.6 0 1 0 -7.2 0M160.39 1530.80a3.6 3.6 0 1 0 7.2 0a3.6 3.6 0 1 0 -7.2 0M166.20 1529.80a3.6 3.6 0 1 0 7.2 0a3.6 3.6 0 1 0 -7.2 0M172.02 1528.90a3.6 3.6 0 1 0 7.2 0a3.6 3.6 0 1 0 -7.2 0M177.83 1527.60a3.6 3.6 0 1 0 7.2 0a3.6 3.6 0 1 0 -7.2 0M183.65 1526.40a3.6 3.6 0 1 0 7.2 0a3.6 3.6 0 1 0 -7.2 0M189.46 1525.10a3.6 3.6 0 1 0 7.2 0a3.6 3.6 0 1 0 -7.2 0M195.27 1523.40a3.6 3.6 0 1 0 7.2 0a3.6 3.6 0 1 0 -7.2 0M201.09 1521.40a3.6 3.6 0 1 0 7.2 0a3.6 3.6 0 1 0 -7.2 0M206.90 1518.90a3.6 3.6 0 1 0 7.2 0a3.6 3.6 0 1 0 -7.2 0M212.72 1515.20a3.6 3.6 0 1 0 7.2 0a3.6 3.6 0 1 0 -7.2 0M218.53 1433.80a3.6 3.6 0 1 0 7.2 0a3.6 3.6 0 1 0 -7.2 0M224.34 1437.40a3.6 3.6 0 1 0 7.2 0a3.6 3.6 0 1 0 -7.2 0M230.16 1441.70a3.6 3.6 0 1 0 7.2 0a3.6 3.6 0 1 0 -7.2 0M235.97 1299.60a3.6 3.6 0 1 0 7.2 0a3.6 3.6 0 1 0 -7.2 0M241.78 1302.90a3.6 3.6 0 1 0 7.2 0a3.6 3.6 0 1 0 -7.2 0M247.60 1305.40a3.6 3.6 0 1 0 7.2 0a3.6 3.6 0 1 0 -7.2 0M253.41 1310.80a3.6 3.6 0 1 0 7.2 0a3.6 3.6 0 1 0 -7.2 0M259.23 1314.70a3.6 3.6 0 1 0 7.2 0a3.6 3.6 0 1 0 -7.2 0M265.04 1317.50a3.6 3.6 0 1 0 7.2 0a3.6 3.6 0 1 0 -7.2 0M270.85 1320.10a3.6 3.6 0 1 0 7.2 0a3.6 3.6 0 1 0 -7.2 0M276.67 1323.30a3.6 3.6 0 1 0 7.2 0a3.6 3.6 0 1 0 -7.2 0M282.48 1327.30a3.6 3.6 0 1 0 7.2 0a3.6 3.6 0 1 0 -7.2 0M288.30 1332.90a3.6 3.6 0 1 0 7.2 0a3.6 3.6 0 1 0 -7.2 0M294.11 1337.70a3.6 3.6 0 1 0 7.2 0a3.6 3.6 0 1 0 -7.2 0M299.92 1342.90a3.6 3.6 0 1 0 7.2 0a3.6 3.6 0 1 0 -7.2 0M305.74 1348.20a3.6 3.6 0 1 0 7.2 0a3.6 3.6 0 1 0 -7.2 0M311.55 1353.40a3.6 3.6 0 1 0 7.2 0a3.6 3.6 0 1 0 -7.2 0M317.37 1359.60a3.6 3.6 0 1 0 7.2 0a3.6 3.6 0 1 0 -7.2 0M323.18 1365.60a3.6 3.6 0 1 0 7.2 0a3.6 3.6 0 1 0 -7.2 0M329.00 1371.70a3.6 3.6 0 1 0 7.2 0a3.6 3.6 0 1 0 -7.2 0M334.81 1377.60a3.6 3.6 0 1 0 7.2 0a3.6 3.6 0 1 0 -7.2 0M340.62 1384.50a3.6 3.6 0 1 0 7.2 0a3.6 3.6 0 1 0 -7.2 0M346.44 1390.70a3.6 3.6 0 1 0 7.2 0a3.6 3.6 0 1 0 -7.2 0M352.25 1397.10a3.6 3.6 0 1 0 7.2 0a3.6 3.6 0 1 0 -7.2 0M358.06 1401.30a3.6 3.6 0 1 0 7.2 0a3.6 3.6 0 1 0 -7.2 0M363.88 1404.70a3.6 3.6 0 1 0 7.2 0a3.6 3.6 0 1 0 -7.2 0M369.69 1410.80a3.6 3.6 0 1 0 7.2 0a3.6 3.6 0 1 0 -7.2 0M375.51 1427.10a3.6 3.6 0 1 0 7.2 0a3.6 3.6 0 1 0 -7.2 0M381.32 1435.70a3.6 3.6 0 1 0 7.2 0a3.6 3.6 0 1 0 -7.2 0M387.13 1447.10a3.6 3.6 0 1 0 7.2 0a3.6 3.6 0 1 0 -7.2 0M392.95 1459.00a3.6 3.6 0 1 0 7.2 0a3.6 3.6 0 1 0 -7.2 0M398.76 1471.80a3.6 3.6 0 1 0 7.2 0a3.6 3.6 0 1 0 -7.2 0M404.58 1488.80a3.6 3.6 0 1 0 7.2 0a3.6 3.6 0 1 0 -7.2 0M410.39 1523.80a3.6 3.6 0 1 0 7.2 0a3.6 3.6 0 1 0 -7.2 0M416.20 1523.80a3.6 3.6 0 1 0 7.2 0a3.6 3.6 0 1 0 -7.2 0M422.02 1522.80a3.6 3.6 0 1 0 7.2 0a3.6 3.6 0 1 0 -7.2 0M427.83 1521.60a3.6 3.6 0 1 0 7.2 0a3.6 3.6 0 1 0 -7.2 0M433.65 1520.10a3.6 3.6 0 1 0 7.2 0a3.6 3.6 0 1 0 -7.2 0M439.46 1518.40a3.6 3.6 0 1 0 7.2 0a3.6 3.6 0 1 0 -7.2 0M445.27 1515.90a3.6 3.6 0 1 0 7.2 0a3.6 3.6 0 1 0 -7.2 0M451.09 1512.60a3.6 3.6 0 1 0 7.2 0a3.6 3.6 0 1 0 -7.2 0M456.90 1454.80a3.6 3.6 0 1 0 7.2 0a3.6 3.6 0 1 0 -7.2 0M462.72 1458.60a3.6 3.6 0 1 0 7.2 0a3.6 3.6 0 1 0 -7.2 0M468.53 1463.30a3.6 3.6 0 1 0 7.2 0a3.6 3.6 0 1 0 -7.2 0M474.34 1468.50a3.6 3.6 0 1 0 7.2 0a3.6 3.6 0 1 0 -7.2 0M480.16 1474.40a3.6 3.6 0 1 0 7.2 0a3.6 3.6 0 1 0 -7.2 0M485.97 1480.50a3.6 3.6 0 1 0 7.2 0a3.6 3.6 0 1 0 -7.2 0M491.79 1486.60a3.6 3.6 0 1 0 7.2 0a3.6 3.6 0 1 0 -7.2 0M497.60 1492.70a3.6 3.6 0 1 0 7.2 0a3.6 3.6 0 1 0 -7.2 0M503.41 1498.30a3.6 3.6 0 1 0 7.2 0a3.6 3.6 0 1 0 -7.2 0M509.23 1503.70a3.6 3.6 0 1 0 7.2 0a3.6 3.6 0 1 0 -7.2 0M515.04 1508.30a3.6 3.6 0 1 0 7.2 0a3.6 3.6 0 1 0 -7.2 0M520.86 1512.60a3.6 3.6 0 1 0 7.2 0a3.6 3.6 0 1 0 -7.2 0M526.67 1516.10a3.6 3.6 0 1 0 7.2 0a3.6 3.6 0 1 0 -7.2 0M532.48 1519.00a3.6 3.6 0 1 0 7.2 0a3.6 3.6 0 1 0 -7.2 0M538.30 1521.90a3.6 3.6 0 1 0 7.2 0a3.6 3.6 0 1 0 -7.2 0M544.11 1523.80a3.6 3.6 0 1 0 7.2 0a3.6 3.6 0 1 0 -7.2 0M549.93 1525.80a3.6 3.6 0 1 0 7.2 0a3.6 3.6 0 1 0 -7.2 0M555.74 1527.30a3.6 3.6 0 1 0 7.2 0a3.6 3.6 0 1 0 -7.2 0M561.55 1528.50a3.6 3.6 0 1 0 7.2 0a3.6 3.6 0 1 0 -7.2 0M567.37 1529.60a3.6 3.6 0 1 0 7.2 0a3.6 3.6 0 1 0 -7.2 0M573.18 1530.70a3.6 3.6 0 1 0 7.2 0a3.6 3.6 0 1 0 -7.2 0M579.00 1531.50a3.6 3.6 0 1 0 7.2 0a3.6 3.6 0 1 0 -7.2 0M584.81 1532.40a3.6 3.6 0 1 0 7.2 0a3.6 3.6 0 1 0 -7.2 0M590.62 1533.30a3.6 3.6 0 1 0 7.2 0a3.6 3.6 0 1 0 -7.2 0M596.44 1533.90a3.6 3.6 0 1 0 7.2 0a3.6 3.6 0 1 0 -7.2 0M602.25 1534.50a3.6 3.6 0 1 0 7.2 0a3.6 3.6 0 1 0 -7.2 0M608.07 1534.90a3.6 3.6 0 1 0 7.2 0a3.6 3.6 0 1 0 -7.2 0M613.88 1535.30a3.6 3.6 0 1 0 7.2 0a3.6 3.6 0 1 0 -7.2 0M619.69 1535.80a3.6 3.6 0 1 0 7.2 0a3.6 3.6 0 1 0 -7.2 0M625.51 1536.20a3.6 3.6 0 1 0 7.2 0a3.6 3.6 0 1 0 -7.2 0M631.32 1536.60a3.6 3.6 0 1 0 7.2 0a3.6 3.6 0 1 0 -7.2 0M637.14 1536.90a3.6 3.6 0 1 0 7.2 0a3.6 3.6 0 1 0 -7.2 0M642.95 1537.50a3.6 3.6 0 1 0 7.2 0a3.6 3.6 0 1 0 -7.2 0M648.76 1537.90a3.6 3.6 0 1 0 7.2 0a3.6 3.6 0 1 0 -7.2 0M654.58 1538.30a3.6 3.6 0 1 0 7.2 0a3.6 3.6 0 1 0 -7.2 0" fill="none" stroke="#1a1a1a" stroke-width="1.1"/>
<path d="M666.9 1529.8 L669.4 1534.2 L674.4 1534.2 L671.9 1538.5 L674.4 1542.8 L669.4 1542.8 L666.9 1547.2 L664.4 1542.8 L659.4 1542.8 L661.9 1538.5 L659.4 1534.2 L664.4 1534.2Z" fill="#ff0000" stroke="none"/>
<rect x="368" y="1256.5" width="285" height="84" fill="#fff" stroke="#262626" stroke-width="0.68"/>
<circle cx="400.1" cy="1272.2" r="3" fill="#0072BD"/>
<circle cx="400.1" cy="1298.6" r="3.6" fill="none" stroke="#1a1a1a" stroke-width="1.1"/>
<path d="M400.1 1316.6 L402.6 1321.0 L407.6 1321.0 L405.1 1325.3 L407.6 1329.6 L402.6 1329.6 L400.1 1334.0 L397.6 1329.6 L392.6 1329.6 L395.1 1325.3 L392.6 1321.0 L397.6 1321.0Z" fill="#ff0000" stroke="none"/>
<text x="430.50" y="1277.90" font-family="Liberation Serif" font-size="21.5" textLength="216.3" lengthAdjust="spacingAndGlyphs">run-down (strob. map)</text>
<text x="430.50" y="1304.10" font-family="Liberation Serif" font-size="21.5" textLength="200.8" lengthAdjust="spacingAndGlyphs">run-down (max. val.)</text>
<text x="430.50" y="1330.30" font-family="Liberation Serif" font-size="21.5" textLength="118.8" lengthAdjust="spacingAndGlyphs">initialization</text>
<text x="0.0" y="19.3" font-family="Liberation Sans" font-weight="bold" font-size="30">a</text>
<text x="0.0" y="641.0" font-family="Liberation Sans" font-weight="bold" font-size="30">b</text>
<text x="0.5" y="1252.3" font-family="Liberation Sans" font-weight="bold" font-size="30">c</text>
<text transform="translate(21.8 363.6) rotate(-90)" font-family="Liberation Serif" font-size="28" textLength="278" lengthAdjust="spacing">max (<tspan font-style="italic">R</tspan> sin(<tspan font-style="italic">φ</tspan><tspan font-style="italic" font-size="20" dy="4">x</tspan><tspan dy="-4">)) in mm</tspan></text>
<text transform="translate(21.8 946.3) rotate(-90)" font-family="Liberation Serif" font-size="28" textLength="202.5" lengthAdjust="spacing"><tspan font-style="italic">R</tspan> sin(<tspan font-style="italic">φ</tspan><tspan font-style="italic" font-size="20" dy="4">x</tspan><tspan dy="-4">) in mm</tspan></text>
<text transform="translate(21.8 1567.2) rotate(-90)" font-family="Liberation Serif" font-size="28" textLength="202.5" lengthAdjust="spacing"><tspan font-style="italic">R</tspan> sin(<tspan font-style="italic">φ</tspan><tspan font-style="italic" font-size="20" dy="4">x</tspan><tspan dy="-4">) in mm</tspan></text>
</svg>
</body></html>
